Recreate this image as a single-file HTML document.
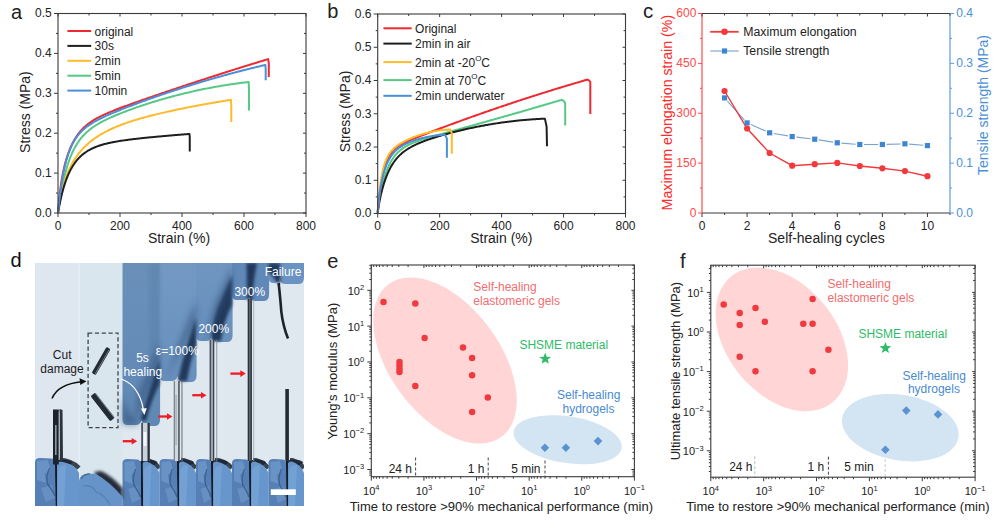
<!DOCTYPE html>
<html><head><meta charset="utf-8"><style>
html,body{margin:0;padding:0;background:#fff;}
svg{display:block;}
text{font-family:"Liberation Sans", sans-serif;}
</style></head><body>
<svg width="1000" height="529" viewBox="0 0 1000 529">
<rect width="1000" height="529" fill="#fff"/>
<path d="M58,213 L58.27,210.93 L58.55,208.91 L58.82,206.95 L59.09,205.05 L59.36,203.2 L59.64,201.4 L59.91,199.65 L60.18,197.94 L60.45,196.28 L60.73,194.67 L61,193.09 L62.18,186.74 L63.36,181.06 L64.54,175.96 L65.72,171.37 L66.9,167.22 L68.08,163.46 L69.26,160.05 L70.44,156.95 L71.62,154.11 L72.8,151.51 L73.98,149.13 L75.16,146.94 L76.34,144.91 L77.52,143.04 L78.7,141.31 L79.88,139.7 L81.06,138.2 L82.24,136.79 L83.42,135.48 L84.6,134.25 L85.78,133.09 L86.96,132 L88.14,130.96 L89.32,129.98 L90.5,129.05 L91.68,128.16 L92.87,127.31 L94.05,126.5 L95.23,125.72 L96.41,124.97 L97.59,124.25 L98.77,123.55 L99.95,122.87 L101.13,122.22 L102.31,121.59 L103.49,120.97 L104.67,120.37 L105.85,119.78 L107.03,119.21 L108.21,118.65 L109.39,118.1 L110.57,117.56 L111.75,117.03 L112.93,116.51 L114.11,116 L115.29,115.5 L116.47,115 L117.65,114.52 L118.83,114.03 L120.01,113.56 L121.19,113.09 L122.37,112.63 L123.55,112.17 L124.73,111.72 L125.91,111.27 L127.09,110.83 L128.27,110.39 L129.45,109.95 L130.63,109.52 L131.81,109.1 L132.99,108.68 L134.17,108.26 L135.35,107.84 L136.53,107.43 L137.71,107.03 L138.89,106.62 L140.07,106.22 L141.25,105.82 L142.43,105.43 L143.61,105.04 L144.79,104.65 L145.97,104.27 L147.15,103.89 L148.33,103.51 L149.51,103.14 L150.69,102.77 L151.87,102.4 L153.05,102.03 L154.23,101.67 L155.42,101.31 L156.6,100.96 L157.78,100.6 L158.96,100.25 L160.14,99.91 L161.32,99.56 L162.5,99.22 L163.68,98.88 L164.86,98.55 L166.04,98.21 L167.22,97.88 L168.4,97.56 L169.58,97.23 L170.76,96.91 L171.94,96.59 L173.12,96.28 L174.3,95.96 L175.48,95.65 L176.66,95.35 L177.84,95.04 L179.02,94.74 L180.2,94.44 L181.38,94.15 L182.56,93.86 L183.74,93.57 L184.92,93.28 L186.1,93 L187.28,92.72 L188.46,92.44 L189.64,92.16 L190.82,91.89 L192,91.62 L193.18,91.35 L194.36,91.09 L195.54,90.83 L196.72,90.57 L197.9,90.31 L199.08,90.06 L200.26,89.81 L201.44,89.56 L202.62,89.32 L203.8,89.08 L204.98,88.84 L206.16,88.61 L207.34,88.37 L208.52,88.14 L209.7,87.92 L210.88,87.69 L212.06,87.47 L213.24,87.25 L214.42,87.04 L215.6,86.82 L216.78,86.61 L217.97,86.41 L219.15,86.2 L220.33,86 L221.51,85.8 L222.69,85.61 L223.87,85.41 L225.05,85.22 L226.23,85.04 L227.41,84.85 L228.59,84.67 L229.77,84.49 L230.95,84.32 L232.13,84.14 L233.31,83.97 L234.49,83.8 L235.67,83.64 L236.85,83.48 L238.03,83.32 L239.21,83.16 L240.39,83.01 L241.57,82.86 L242.75,82.71 L243.93,82.57 L245.11,82.43 L246.29,82.29 L247.47,82.15 L248.65,82.02 L248.96,89.31 L248.96,110.46" fill="none" stroke="#55c883" stroke-width="2.0" stroke-linejoin="round" stroke-linecap="butt"/>
<path d="M58,213 L58.27,211.17 L58.55,209.39 L58.82,207.68 L59.09,206.03 L59.36,204.43 L59.64,202.89 L59.91,201.39 L60.18,199.94 L60.45,198.54 L60.73,197.18 L61,195.87 L62.07,191.08 L63.14,186.82 L64.21,183 L65.28,179.56 L66.35,176.43 L67.41,173.59 L68.48,170.98 L69.55,168.58 L70.62,166.36 L71.69,164.29 L72.76,162.36 L73.83,160.55 L74.9,158.85 L75.97,157.25 L77.04,155.73 L78.1,154.3 L79.17,152.93 L80.24,151.63 L81.31,150.38 L82.38,149.2 L83.45,148.06 L84.52,146.97 L85.59,145.92 L86.66,144.91 L87.73,143.94 L88.8,143.01 L89.86,142.11 L90.93,141.24 L92,140.4 L93.07,139.59 L94.14,138.81 L95.21,138.05 L96.28,137.32 L97.35,136.61 L98.42,135.91 L99.49,135.24 L100.56,134.59 L101.62,133.96 L102.69,133.35 L103.76,132.75 L104.83,132.17 L105.9,131.6 L106.97,131.05 L108.04,130.52 L109.11,129.99 L110.18,129.48 L111.25,128.98 L112.31,128.49 L113.38,128.02 L114.45,127.55 L115.52,127.1 L116.59,126.65 L117.66,126.21 L118.73,125.79 L119.8,125.37 L120.87,124.96 L121.94,124.55 L123.01,124.16 L124.07,123.77 L125.14,123.39 L126.21,123.01 L127.28,122.64 L128.35,122.28 L129.42,121.92 L130.49,121.57 L131.56,121.23 L132.63,120.89 L133.7,120.55 L134.76,120.22 L135.83,119.89 L136.9,119.57 L137.97,119.26 L139.04,118.94 L140.11,118.63 L141.18,118.33 L142.25,118.03 L143.32,117.73 L144.39,117.43 L145.46,117.14 L146.52,116.85 L147.59,116.57 L148.66,116.29 L149.73,116.01 L150.8,115.73 L151.87,115.46 L152.94,115.19 L154.01,114.92 L155.08,114.65 L156.15,114.39 L157.22,114.13 L158.28,113.87 L159.35,113.61 L160.42,113.36 L161.49,113.11 L162.56,112.86 L163.63,112.61 L164.7,112.36 L165.77,112.12 L166.84,111.87 L167.91,111.63 L168.97,111.4 L170.04,111.16 L171.11,110.92 L172.18,110.69 L173.25,110.46 L174.32,110.23 L175.39,110 L176.46,109.77 L177.53,109.54 L178.6,109.32 L179.67,109.1 L180.73,108.88 L181.8,108.66 L182.87,108.44 L183.94,108.22 L185.01,108 L186.08,107.79 L187.15,107.58 L188.22,107.37 L189.29,107.15 L190.36,106.95 L191.42,106.74 L192.49,106.53 L193.56,106.33 L194.63,106.12 L195.7,105.92 L196.77,105.72 L197.84,105.52 L198.91,105.32 L199.98,105.12 L201.05,104.92 L202.12,104.73 L203.18,104.53 L204.25,104.34 L205.32,104.15 L206.39,103.95 L207.46,103.76 L208.53,103.57 L209.6,103.39 L210.67,103.2 L211.74,103.01 L212.81,102.83 L213.88,102.65 L214.94,102.46 L216.01,102.28 L217.08,102.1 L218.15,101.92 L219.22,101.74 L220.29,101.57 L221.36,101.39 L222.43,101.22 L223.5,101.04 L224.57,100.87 L225.63,100.7 L226.7,100.53 L227.77,100.36 L228.84,100.19 L229.91,100.02 L230.98,99.85 L231.29,105.27 L231.29,122.03" fill="none" stroke="#fdbb2c" stroke-width="2.0" stroke-linejoin="round" stroke-linecap="butt"/>
<path d="M58,213 L58.27,211.41 L58.55,209.86 L58.82,208.36 L59.09,206.9 L59.36,205.48 L59.64,204.1 L59.91,202.75 L60.18,201.45 L60.45,200.17 L60.73,198.94 L61,197.73 L61.81,194.34 L62.62,191.21 L63.42,188.3 L64.23,185.6 L65.04,183.09 L65.85,180.75 L66.65,178.57 L67.46,176.54 L68.27,174.63 L69.08,172.85 L69.89,171.18 L70.69,169.61 L71.5,168.14 L72.31,166.75 L73.12,165.45 L73.92,164.22 L74.73,163.06 L75.54,161.96 L76.35,160.93 L77.16,159.95 L77.96,159.03 L78.77,158.15 L79.58,157.32 L80.39,156.53 L81.19,155.78 L82,155.07 L82.81,154.39 L83.62,153.75 L84.43,153.13 L85.23,152.55 L86.04,152 L86.85,151.47 L87.66,150.96 L88.47,150.48 L89.27,150.01 L90.08,149.57 L90.89,149.15 L91.7,148.75 L92.5,148.36 L93.31,147.99 L94.12,147.64 L94.93,147.29 L95.74,146.97 L96.54,146.65 L97.35,146.35 L98.16,146.06 L98.97,145.78 L99.77,145.51 L100.58,145.25 L101.39,145 L102.2,144.76 L103.01,144.53 L103.81,144.3 L104.62,144.09 L105.43,143.88 L106.24,143.67 L107.04,143.48 L107.85,143.28 L108.66,143.1 L109.47,142.92 L110.28,142.74 L111.08,142.58 L111.89,142.41 L112.7,142.25 L113.51,142.09 L114.31,141.94 L115.12,141.79 L115.93,141.65 L116.74,141.51 L117.55,141.37 L118.35,141.23 L119.16,141.1 L119.97,140.97 L120.78,140.85 L121.58,140.72 L122.39,140.6 L123.2,140.48 L124.01,140.37 L124.82,140.25 L125.62,140.14 L126.43,140.03 L127.24,139.92 L128.05,139.81 L128.86,139.71 L129.66,139.6 L130.47,139.5 L131.28,139.4 L132.09,139.3 L132.89,139.2 L133.7,139.1 L134.51,139.01 L135.32,138.91 L136.13,138.82 L136.93,138.73 L137.74,138.64 L138.55,138.55 L139.36,138.46 L140.16,138.37 L140.97,138.28 L141.78,138.19 L142.59,138.11 L143.4,138.02 L144.2,137.94 L145.01,137.86 L145.82,137.77 L146.63,137.69 L147.43,137.61 L148.24,137.53 L149.05,137.45 L149.86,137.37 L150.67,137.29 L151.47,137.21 L152.28,137.13 L153.09,137.05 L153.9,136.98 L154.7,136.9 L155.51,136.83 L156.32,136.75 L157.13,136.67 L157.94,136.6 L158.74,136.53 L159.55,136.45 L160.36,136.38 L161.17,136.31 L161.97,136.23 L162.78,136.16 L163.59,136.09 L164.4,136.02 L165.21,135.95 L166.01,135.88 L166.82,135.81 L167.63,135.74 L168.44,135.67 L169.25,135.6 L170.05,135.53 L170.86,135.46 L171.67,135.39 L172.48,135.32 L173.28,135.26 L174.09,135.19 L174.9,135.12 L175.71,135.06 L176.52,134.99 L177.32,134.92 L178.13,134.86 L178.94,134.79 L179.75,134.73 L180.55,134.66 L181.36,134.6 L182.17,134.53 L182.98,134.47 L183.79,134.41 L184.59,134.34 L185.4,134.28 L186.21,134.22 L187.02,134.15 L187.82,134.09 L188.63,134.03 L189.44,133.97 L189.75,137.19 L189.75,151.55" fill="none" stroke="#1e1e1e" stroke-width="2.0" stroke-linejoin="round" stroke-linecap="butt"/>
<path d="M58,213 L58.27,209.46 L58.55,206.16 L58.82,203.08 L59.09,200.19 L59.36,197.49 L59.64,194.95 L59.91,192.56 L60.18,190.3 L60.45,188.17 L60.73,186.15 L61,184.23 L62.3,176.25 L63.61,169.74 L64.91,164.26 L66.21,159.55 L67.52,155.43 L68.82,151.77 L70.12,148.5 L71.42,145.55 L72.73,142.89 L74.03,140.46 L75.33,138.26 L76.64,136.24 L77.94,134.39 L79.24,132.69 L80.55,131.12 L81.85,129.67 L83.15,128.32 L84.45,127.07 L85.76,125.9 L87.06,124.81 L88.36,123.78 L89.67,122.81 L90.97,121.9 L92.27,121.03 L93.58,120.21 L94.88,119.43 L96.18,118.68 L97.48,117.96 L98.79,117.26 L100.09,116.6 L101.39,115.95 L102.7,115.32 L104,114.71 L105.3,114.12 L106.61,113.54 L107.91,112.97 L109.21,112.42 L110.51,111.87 L111.82,111.33 L113.12,110.81 L114.42,110.28 L115.73,109.77 L117.03,109.26 L118.33,108.76 L119.64,108.26 L120.94,107.77 L122.24,107.28 L123.54,106.79 L124.85,106.31 L126.15,105.83 L127.45,105.35 L128.76,104.88 L130.06,104.41 L131.36,103.94 L132.67,103.47 L133.97,103.01 L135.27,102.54 L136.58,102.08 L137.88,101.62 L139.18,101.16 L140.48,100.7 L141.79,100.24 L143.09,99.79 L144.39,99.33 L145.7,98.88 L147,98.42 L148.3,97.97 L149.61,97.52 L150.91,97.07 L152.21,96.62 L153.51,96.17 L154.82,95.72 L156.12,95.28 L157.42,94.83 L158.73,94.39 L160.03,93.94 L161.33,93.5 L162.64,93.05 L163.94,92.61 L165.24,92.17 L166.54,91.73 L167.85,91.28 L169.15,90.84 L170.45,90.4 L171.76,89.97 L173.06,89.53 L174.36,89.09 L175.67,88.65 L176.97,88.21 L178.27,87.78 L179.57,87.34 L180.88,86.91 L182.18,86.47 L183.48,86.04 L184.79,85.61 L186.09,85.18 L187.39,84.74 L188.7,84.31 L190,83.88 L191.3,83.45 L192.6,83.02 L193.91,82.59 L195.21,82.16 L196.51,81.74 L197.82,81.31 L199.12,80.88 L200.42,80.46 L201.73,80.03 L203.03,79.61 L204.33,79.18 L205.64,78.76 L206.94,78.34 L208.24,77.91 L209.54,77.49 L210.85,77.07 L212.15,76.65 L213.45,76.23 L214.76,75.81 L216.06,75.39 L217.36,74.97 L218.67,74.55 L219.97,74.14 L221.27,73.72 L222.57,73.3 L223.88,72.89 L225.18,72.47 L226.48,72.06 L227.79,71.64 L229.09,71.23 L230.39,70.82 L231.7,70.41 L233,70 L234.3,69.58 L235.6,69.17 L236.91,68.76 L238.21,68.36 L239.51,67.95 L240.82,67.54 L242.12,67.13 L243.42,66.72 L244.73,66.32 L246.03,65.91 L247.33,65.51 L248.63,65.1 L249.94,64.7 L251.24,64.3 L252.54,63.89 L253.85,63.49 L255.15,63.09 L256.45,62.69 L257.76,62.29 L259.06,61.89 L260.36,61.49 L261.66,61.09 L262.97,60.69 L264.27,60.29 L265.57,59.9 L266.88,59.5 L268.18,59.1 L268.8,63.38 L268.8,76.94" fill="none" stroke="#ee2a30" stroke-width="2.0" stroke-linejoin="round" stroke-linecap="butt"/>
<path d="M58,213 L58.27,210.2 L58.55,207.51 L58.82,204.92 L59.09,202.42 L59.36,200.02 L59.64,197.71 L59.91,195.48 L60.18,193.33 L60.45,191.26 L60.73,189.26 L61,187.34 L62.29,179.13 L63.57,172.16 L64.86,166.2 L66.14,161.07 L67.43,156.63 L68.71,152.77 L70,149.39 L71.28,146.4 L72.57,143.76 L73.85,141.4 L75.14,139.28 L76.43,137.37 L77.71,135.64 L79,134.06 L80.28,132.61 L81.57,131.28 L82.85,130.05 L84.14,128.9 L85.42,127.82 L86.71,126.81 L87.99,125.86 L89.28,124.96 L90.57,124.11 L91.85,123.29 L93.14,122.51 L94.42,121.76 L95.71,121.03 L96.99,120.33 L98.28,119.65 L99.56,118.99 L100.85,118.35 L102.14,117.73 L103.42,117.11 L104.71,116.51 L105.99,115.93 L107.28,115.35 L108.56,114.78 L109.85,114.22 L111.13,113.66 L112.42,113.12 L113.7,112.58 L114.99,112.04 L116.28,111.51 L117.56,110.99 L118.85,110.47 L120.13,109.95 L121.42,109.44 L122.7,108.93 L123.99,108.43 L125.27,107.93 L126.56,107.43 L127.84,106.93 L129.13,106.44 L130.42,105.95 L131.7,105.46 L132.99,104.98 L134.27,104.5 L135.56,104.02 L136.84,103.54 L138.13,103.06 L139.41,102.59 L140.7,102.12 L141.98,101.65 L143.27,101.18 L144.56,100.72 L145.84,100.25 L147.13,99.79 L148.41,99.33 L149.7,98.88 L150.98,98.42 L152.27,97.97 L153.55,97.52 L154.84,97.07 L156.12,96.62 L157.41,96.17 L158.7,95.73 L159.98,95.28 L161.27,94.84 L162.55,94.4 L163.84,93.97 L165.12,93.53 L166.41,93.1 L167.69,92.66 L168.98,92.23 L170.27,91.81 L171.55,91.38 L172.84,90.95 L174.12,90.53 L175.41,90.11 L176.69,89.69 L177.98,89.27 L179.26,88.85 L180.55,88.44 L181.83,88.03 L183.12,87.62 L184.41,87.21 L185.69,86.8 L186.98,86.39 L188.26,85.99 L189.55,85.59 L190.83,85.19 L192.12,84.79 L193.4,84.39 L194.69,83.99 L195.97,83.6 L197.26,83.21 L198.55,82.82 L199.83,82.43 L201.12,82.04 L202.4,81.66 L203.69,81.28 L204.97,80.89 L206.26,80.51 L207.54,80.14 L208.83,79.76 L210.11,79.38 L211.4,79.01 L212.69,78.64 L213.97,78.27 L215.26,77.9 L216.54,77.54 L217.83,77.17 L219.11,76.81 L220.4,76.45 L221.68,76.09 L222.97,75.73 L224.25,75.38 L225.54,75.02 L226.83,74.67 L228.11,74.32 L229.4,73.97 L230.68,73.63 L231.97,73.28 L233.25,72.94 L234.54,72.6 L235.82,72.26 L237.11,71.92 L238.4,71.58 L239.68,71.25 L240.97,70.91 L242.25,70.58 L243.54,70.25 L244.82,69.93 L246.11,69.6 L247.39,69.28 L248.68,68.95 L249.96,68.63 L251.25,68.31 L252.54,68 L253.82,67.68 L255.11,67.37 L256.39,67.05 L257.68,66.74 L258.96,66.44 L260.25,66.13 L261.53,65.82 L262.82,65.52 L264.1,65.22 L265.39,64.92 L265.7,69.36 L265.7,80.13" fill="none" stroke="#4a8fd8" stroke-width="2.0" stroke-linejoin="round" stroke-linecap="butt"/>
<rect x="58" y="13.5" width="248" height="199.5" fill="none" stroke="#3a3a3a" stroke-width="1.1"/>
<line x1="58" y1="213" x2="58" y2="217" stroke="#3a3a3a" stroke-width="1.0" />
<line x1="58" y1="13.5" x2="58" y2="16.5" stroke="#3a3a3a" stroke-width="1.0" />
<text x="58" y="229.8" font-size="12" text-anchor="middle" fill="#222" >0</text>
<line x1="89" y1="213" x2="89" y2="215" stroke="#3a3a3a" stroke-width="1.0" />
<line x1="89" y1="13.5" x2="89" y2="15.5" stroke="#3a3a3a" stroke-width="1.0" />
<line x1="120" y1="213" x2="120" y2="217" stroke="#3a3a3a" stroke-width="1.0" />
<line x1="120" y1="13.5" x2="120" y2="16.5" stroke="#3a3a3a" stroke-width="1.0" />
<text x="120" y="229.8" font-size="12" text-anchor="middle" fill="#222" >200</text>
<line x1="151" y1="213" x2="151" y2="215" stroke="#3a3a3a" stroke-width="1.0" />
<line x1="151" y1="13.5" x2="151" y2="15.5" stroke="#3a3a3a" stroke-width="1.0" />
<line x1="182" y1="213" x2="182" y2="217" stroke="#3a3a3a" stroke-width="1.0" />
<line x1="182" y1="13.5" x2="182" y2="16.5" stroke="#3a3a3a" stroke-width="1.0" />
<text x="182" y="229.8" font-size="12" text-anchor="middle" fill="#222" >400</text>
<line x1="213" y1="213" x2="213" y2="215" stroke="#3a3a3a" stroke-width="1.0" />
<line x1="213" y1="13.5" x2="213" y2="15.5" stroke="#3a3a3a" stroke-width="1.0" />
<line x1="244" y1="213" x2="244" y2="217" stroke="#3a3a3a" stroke-width="1.0" />
<line x1="244" y1="13.5" x2="244" y2="16.5" stroke="#3a3a3a" stroke-width="1.0" />
<text x="244" y="229.8" font-size="12" text-anchor="middle" fill="#222" >600</text>
<line x1="275" y1="213" x2="275" y2="215" stroke="#3a3a3a" stroke-width="1.0" />
<line x1="275" y1="13.5" x2="275" y2="15.5" stroke="#3a3a3a" stroke-width="1.0" />
<line x1="306" y1="213" x2="306" y2="217" stroke="#3a3a3a" stroke-width="1.0" />
<line x1="306" y1="13.5" x2="306" y2="16.5" stroke="#3a3a3a" stroke-width="1.0" />
<text x="306" y="229.8" font-size="12" text-anchor="middle" fill="#222" >800</text>
<line x1="54" y1="213" x2="58" y2="213" stroke="#3a3a3a" stroke-width="1.0" />
<line x1="303" y1="213" x2="306" y2="213" stroke="#3a3a3a" stroke-width="1.0" />
<text x="51.7" y="216.9" font-size="12" text-anchor="end" fill="#222" >0.0</text>
<line x1="56" y1="193.05" x2="58" y2="193.05" stroke="#3a3a3a" stroke-width="1.0" />
<line x1="304" y1="193.05" x2="306" y2="193.05" stroke="#3a3a3a" stroke-width="1.0" />
<line x1="54" y1="173.1" x2="58" y2="173.1" stroke="#3a3a3a" stroke-width="1.0" />
<line x1="303" y1="173.1" x2="306" y2="173.1" stroke="#3a3a3a" stroke-width="1.0" />
<text x="51.7" y="177" font-size="12" text-anchor="end" fill="#222" >0.1</text>
<line x1="56" y1="153.15" x2="58" y2="153.15" stroke="#3a3a3a" stroke-width="1.0" />
<line x1="304" y1="153.15" x2="306" y2="153.15" stroke="#3a3a3a" stroke-width="1.0" />
<line x1="54" y1="133.2" x2="58" y2="133.2" stroke="#3a3a3a" stroke-width="1.0" />
<line x1="303" y1="133.2" x2="306" y2="133.2" stroke="#3a3a3a" stroke-width="1.0" />
<text x="51.7" y="137.1" font-size="12" text-anchor="end" fill="#222" >0.2</text>
<line x1="56" y1="113.25" x2="58" y2="113.25" stroke="#3a3a3a" stroke-width="1.0" />
<line x1="304" y1="113.25" x2="306" y2="113.25" stroke="#3a3a3a" stroke-width="1.0" />
<line x1="54" y1="93.3" x2="58" y2="93.3" stroke="#3a3a3a" stroke-width="1.0" />
<line x1="303" y1="93.3" x2="306" y2="93.3" stroke="#3a3a3a" stroke-width="1.0" />
<text x="51.7" y="97.2" font-size="12" text-anchor="end" fill="#222" >0.3</text>
<line x1="56" y1="73.35" x2="58" y2="73.35" stroke="#3a3a3a" stroke-width="1.0" />
<line x1="304" y1="73.35" x2="306" y2="73.35" stroke="#3a3a3a" stroke-width="1.0" />
<line x1="54" y1="53.4" x2="58" y2="53.4" stroke="#3a3a3a" stroke-width="1.0" />
<line x1="303" y1="53.4" x2="306" y2="53.4" stroke="#3a3a3a" stroke-width="1.0" />
<text x="51.7" y="57.3" font-size="12" text-anchor="end" fill="#222" >0.4</text>
<line x1="56" y1="33.45" x2="58" y2="33.45" stroke="#3a3a3a" stroke-width="1.0" />
<line x1="304" y1="33.45" x2="306" y2="33.45" stroke="#3a3a3a" stroke-width="1.0" />
<line x1="54" y1="13.5" x2="58" y2="13.5" stroke="#3a3a3a" stroke-width="1.0" />
<line x1="303" y1="13.5" x2="306" y2="13.5" stroke="#3a3a3a" stroke-width="1.0" />
<text x="51.7" y="17.4" font-size="12" text-anchor="end" fill="#222" >0.5</text>
<line x1="67.4" y1="31" x2="91.2" y2="31" stroke="#ee2a30" stroke-width="2.0" />
<text x="94.6" y="35.5" font-size="12" text-anchor="start" fill="#222" >original</text>
<line x1="67.4" y1="45.9" x2="91.2" y2="45.9" stroke="#1e1e1e" stroke-width="2.0" />
<text x="94.6" y="50.4" font-size="12" text-anchor="start" fill="#222" >30s</text>
<line x1="67.4" y1="60.8" x2="91.2" y2="60.8" stroke="#fdbb2c" stroke-width="2.0" />
<text x="94.6" y="65.3" font-size="12" text-anchor="start" fill="#222" >2min</text>
<line x1="67.4" y1="75.7" x2="91.2" y2="75.7" stroke="#55c883" stroke-width="2.0" />
<text x="94.6" y="80.2" font-size="12" text-anchor="start" fill="#222" >5min</text>
<line x1="67.4" y1="90.6" x2="91.2" y2="90.6" stroke="#4a8fd8" stroke-width="2.0" />
<text x="94.6" y="95.1" font-size="12" text-anchor="start" fill="#222" >10min</text>
<text x="179" y="242.7" font-size="14" text-anchor="middle" fill="#222" >Strain (%)</text>
<text x="29.8" y="112.1" font-size="14" text-anchor="middle" fill="#222" transform="rotate(-90 29.8,112.1)">Stress (MPa)</text>
<text x="11" y="18.8" font-size="20" text-anchor="start" fill="#222" >a</text>
<path d="M377.7,213.2 L377.97,207.63 L378.25,205.43 L378.52,203.73 L378.79,202.13 L379.06,200.59 L379.34,199.09 L379.61,197.63 L379.88,196.21 L380.15,194.83 L380.43,193.49 L380.7,192.18 L381.84,187.1 L382.98,182.56 L384.11,178.5 L385.25,174.87 L386.39,171.62 L387.53,168.7 L388.66,166.08 L389.8,163.73 L390.94,161.61 L392.08,159.69 L393.22,157.96 L394.35,156.39 L395.49,154.97 L396.63,153.67 L397.77,152.49 L398.9,151.41 L400.04,150.42 L401.18,149.5 L402.32,148.66 L403.45,147.87 L404.59,147.14 L405.73,146.46 L406.87,145.83 L408.01,145.23 L409.14,144.66 L410.28,144.13 L411.42,143.62 L412.56,143.13 L413.69,142.67 L414.83,142.22 L415.97,141.79 L417.11,141.38 L418.25,140.97 L419.38,140.58 L420.52,140.2 L421.66,139.82 L422.8,139.46 L423.93,139.1 L425.07,138.75 L426.21,138.4 L427.35,138.06 L428.48,137.72 L429.62,137.38 L430.76,137.05 L431.9,136.72 L433.04,136.39 L434.17,136.07 L435.31,135.75 L436.45,135.42 L437.59,135.1 L438.72,134.79 L439.86,134.47 L441,134.15 L442.14,133.84 L443.28,133.52 L444.41,133.2 L445.55,132.89 L446.69,132.58 L447.83,132.26 L448.96,131.95 L450.1,131.64 L451.24,131.32 L452.38,131.01 L453.52,130.7 L454.65,130.38 L455.79,130.07 L456.93,129.76 L458.07,129.44 L459.2,129.13 L460.34,128.81 L461.48,128.5 L462.62,128.19 L463.75,127.87 L464.89,127.56 L466.03,127.24 L467.17,126.93 L468.31,126.61 L469.44,126.3 L470.58,125.98 L471.72,125.67 L472.86,125.35 L473.99,125.03 L475.13,124.72 L476.27,124.4 L477.41,124.08 L478.55,123.77 L479.68,123.45 L480.82,123.13 L481.96,122.81 L483.1,122.5 L484.23,122.18 L485.37,121.86 L486.51,121.54 L487.65,121.22 L488.78,120.9 L489.92,120.58 L491.06,120.26 L492.2,119.94 L493.34,119.62 L494.47,119.3 L495.61,118.98 L496.75,118.66 L497.89,118.33 L499.02,118.01 L500.16,117.69 L501.3,117.37 L502.44,117.04 L503.58,116.72 L504.71,116.4 L505.85,116.07 L506.99,115.75 L508.13,115.43 L509.26,115.1 L510.4,114.78 L511.54,114.45 L512.68,114.13 L513.82,113.8 L514.95,113.47 L516.09,113.15 L517.23,112.82 L518.37,112.49 L519.5,112.17 L520.64,111.84 L521.78,111.51 L522.92,111.18 L524.05,110.86 L525.19,110.53 L526.33,110.2 L527.47,109.87 L528.61,109.54 L529.74,109.21 L530.88,108.88 L532.02,108.55 L533.16,108.22 L534.29,107.89 L535.43,107.56 L536.57,107.23 L537.71,106.9 L538.85,106.56 L539.98,106.23 L541.12,105.9 L542.26,105.57 L543.4,105.23 L544.53,104.9 L545.67,104.57 L546.81,104.23 L547.95,103.9 L549.08,103.56 L550.22,103.23 L551.36,102.89 L552.5,102.56 L553.64,102.22 L554.77,101.89 L555.91,101.55 L557.05,101.22 L558.19,100.88 L559.32,100.54 L560.46,100.21 L561.6,99.87 L563.6,100.9 L564.9,102.6 L565.2,104.5 L565.2,125.5" fill="none" stroke="#55c883" stroke-width="2.0" stroke-linejoin="round"/>
<path d="M377.7,213.2 L377.97,211.06 L378.25,209.08 L378.52,207.25 L378.79,205.52 L379.06,203.9 L379.34,202.37 L379.61,200.91 L379.88,199.51 L380.15,198.18 L380.43,196.9 L380.7,195.66 L381.73,191.35 L382.77,187.49 L383.8,184.01 L384.83,180.84 L385.86,177.94 L386.9,175.28 L387.93,172.84 L388.96,170.6 L389.99,168.54 L391.03,166.63 L392.06,164.88 L393.09,163.25 L394.13,161.74 L395.16,160.34 L396.19,159.04 L397.22,157.82 L398.26,156.69 L399.29,155.63 L400.32,154.64 L401.35,153.7 L402.39,152.82 L403.42,151.99 L404.45,151.21 L405.48,150.47 L406.52,149.76 L407.55,149.09 L408.58,148.45 L409.62,147.83 L410.65,147.25 L411.68,146.68 L412.71,146.14 L413.75,145.62 L414.78,145.11 L415.81,144.62 L416.84,144.15 L417.88,143.69 L418.91,143.25 L419.94,142.81 L420.98,142.39 L422.01,141.98 L423.04,141.58 L424.07,141.18 L425.11,140.79 L426.14,140.42 L427.17,140.04 L428.2,139.68 L429.24,139.32 L430.27,138.97 L431.3,138.62 L432.34,138.28 L433.37,137.94 L434.4,137.61 L435.43,137.28 L436.47,136.96 L437.5,136.64 L438.53,136.33 L439.56,136.02 L440.6,135.71 L441.63,135.41 L442.66,135.11 L443.69,134.81 L444.73,134.52 L445.76,134.23 L446.79,133.94 L447.83,133.66 L448.86,133.38 L449.89,133.1 L450.92,132.82 L451.96,132.55 L452.99,132.28 L454.02,132.02 L455.05,131.75 L456.09,131.49 L457.12,131.24 L458.15,130.98 L459.19,130.73 L460.22,130.48 L461.25,130.23 L462.28,129.99 L463.32,129.75 L464.35,129.51 L465.38,129.27 L466.41,129.04 L467.45,128.81 L468.48,128.58 L469.51,128.35 L470.55,128.13 L471.58,127.91 L472.61,127.69 L473.64,127.48 L474.68,127.26 L475.71,127.05 L476.74,126.84 L477.77,126.64 L478.81,126.43 L479.84,126.23 L480.87,126.04 L481.91,125.84 L482.94,125.65 L483.97,125.46 L485,125.27 L486.04,125.08 L487.07,124.9 L488.1,124.72 L489.13,124.54 L490.17,124.37 L491.2,124.2 L492.23,124.02 L493.26,123.86 L494.3,123.69 L495.33,123.53 L496.36,123.37 L497.4,123.21 L498.43,123.06 L499.46,122.9 L500.49,122.75 L501.53,122.6 L502.56,122.46 L503.59,122.32 L504.62,122.18 L505.66,122.04 L506.69,121.9 L507.72,121.77 L508.76,121.64 L509.79,121.51 L510.82,121.39 L511.85,121.26 L512.89,121.14 L513.92,121.03 L514.95,120.91 L515.98,120.8 L517.02,120.69 L518.05,120.58 L519.08,120.47 L520.12,120.37 L521.15,120.27 L522.18,120.17 L523.21,120.08 L524.25,119.99 L525.28,119.9 L526.31,119.81 L527.34,119.72 L528.38,119.64 L529.41,119.56 L530.44,119.48 L531.47,119.41 L532.51,119.33 L533.54,119.26 L534.57,119.2 L535.61,119.13 L536.64,119.07 L537.67,119.01 L538.7,118.95 L539.74,118.89 L540.77,118.84 L541.8,118.79 L542.83,118.74 L543.87,118.7 L544.9,118.65 L546.6,126.6 L547,146.3" fill="none" stroke="#1e1e1e" stroke-width="2.0" stroke-linejoin="round"/>
<path d="M377.7,212.6 L377.97,209.73 L378.25,206.98 L378.52,204.36 L378.79,201.85 L379.06,199.46 L379.34,197.17 L379.61,194.98 L379.88,192.89 L380.15,190.88 L380.43,188.97 L380.7,187.14 L382,179.45 L383.3,173.2 L384.6,168.11 L385.9,163.95 L387.2,160.52 L388.5,157.68 L389.8,155.31 L391.11,153.31 L392.41,151.61 L393.71,150.15 L395.01,148.88 L396.31,147.77 L397.61,146.77 L398.91,145.87 L400.21,145.05 L401.51,144.29 L402.81,143.58 L404.11,142.92 L405.41,142.28 L406.71,141.67 L408.01,141.08 L409.31,140.5 L410.61,139.94 L411.92,139.4 L413.22,138.86 L414.52,138.32 L415.82,137.8 L417.12,137.28 L418.42,136.76 L419.72,136.25 L421.02,135.74 L422.32,135.23 L423.62,134.72 L424.92,134.22 L426.22,133.72 L427.52,133.22 L428.82,132.72 L430.12,132.22 L431.42,131.73 L432.73,131.23 L434.03,130.74 L435.33,130.25 L436.63,129.76 L437.93,129.27 L439.23,128.78 L440.53,128.29 L441.83,127.8 L443.13,127.32 L444.43,126.83 L445.73,126.35 L447.03,125.87 L448.33,125.39 L449.63,124.9 L450.93,124.43 L452.23,123.95 L453.54,123.47 L454.84,122.99 L456.14,122.52 L457.44,122.04 L458.74,121.57 L460.04,121.1 L461.34,120.62 L462.64,120.15 L463.94,119.68 L465.24,119.22 L466.54,118.75 L467.84,118.28 L469.14,117.82 L470.44,117.35 L471.74,116.89 L473.04,116.42 L474.35,115.96 L475.65,115.5 L476.95,115.04 L478.25,114.58 L479.55,114.12 L480.85,113.67 L482.15,113.21 L483.45,112.76 L484.75,112.3 L486.05,111.85 L487.35,111.4 L488.65,110.95 L489.95,110.5 L491.25,110.05 L492.55,109.6 L493.85,109.15 L495.16,108.71 L496.46,108.26 L497.76,107.82 L499.06,107.38 L500.36,106.93 L501.66,106.49 L502.96,106.05 L504.26,105.61 L505.56,105.18 L506.86,104.74 L508.16,104.3 L509.46,103.87 L510.76,103.43 L512.06,103 L513.36,102.57 L514.66,102.14 L515.97,101.71 L517.27,101.28 L518.57,100.85 L519.87,100.42 L521.17,100 L522.47,99.57 L523.77,99.15 L525.07,98.72 L526.37,98.3 L527.67,97.88 L528.97,97.46 L530.27,97.04 L531.57,96.62 L532.87,96.2 L534.17,95.79 L535.47,95.37 L536.78,94.96 L538.08,94.54 L539.38,94.13 L540.68,93.72 L541.98,93.31 L543.28,92.9 L544.58,92.49 L545.88,92.08 L547.18,91.68 L548.48,91.27 L549.78,90.87 L551.08,90.46 L552.38,90.06 L553.68,89.66 L554.98,89.26 L556.28,88.86 L557.59,88.46 L558.89,88.06 L560.19,87.67 L561.49,87.27 L562.79,86.88 L564.09,86.48 L565.39,86.09 L566.69,85.7 L567.99,85.31 L569.29,84.92 L570.59,84.53 L571.89,84.14 L573.19,83.76 L574.49,83.37 L575.79,82.98 L577.09,82.6 L578.4,82.22 L579.7,81.84 L581,81.46 L582.3,81.08 L583.6,80.7 L584.9,80.32 L586.2,79.94 L587.5,79.57 L589.3,80.7 L590.3,81.8 L590.3,114.1" fill="none" stroke="#ee2a30" stroke-width="2.0" stroke-linejoin="round"/>
<path d="M377.7,212.6 L377.97,208.66 L378.25,205.01 L378.52,201.63 L378.79,198.49 L379.06,195.58 L379.34,192.88 L379.61,190.36 L379.88,188.01 L380.15,185.81 L380.43,183.76 L380.7,181.84 L381.14,179 L381.58,176.44 L382.02,174.11 L382.45,172 L382.89,170.06 L383.33,168.3 L383.77,166.67 L384.21,165.18 L384.65,163.8 L385.08,162.53 L385.52,161.35 L385.96,160.25 L386.4,159.22 L386.84,158.27 L387.28,157.37 L387.71,156.53 L388.15,155.74 L388.59,155 L389.03,154.3 L389.47,153.63 L389.91,153 L390.34,152.4 L390.78,151.83 L391.22,151.29 L391.66,150.77 L392.1,150.28 L392.54,149.81 L392.97,149.35 L393.41,148.92 L393.85,148.5 L394.29,148.09 L394.73,147.7 L395.17,147.32 L395.6,146.96 L396.04,146.61 L396.48,146.26 L396.92,145.93 L397.36,145.61 L397.8,145.29 L398.23,144.99 L398.67,144.69 L399.11,144.39 L399.55,144.11 L399.99,143.83 L400.43,143.56 L400.86,143.29 L401.3,143.03 L401.74,142.77 L402.18,142.52 L402.62,142.27 L403.06,142.03 L403.49,141.79 L403.93,141.56 L404.37,141.33 L404.81,141.1 L405.25,140.88 L405.69,140.66 L406.13,140.44 L406.56,140.23 L407,140.02 L407.44,139.81 L407.88,139.6 L408.32,139.4 L408.76,139.2 L409.19,139.01 L409.63,138.81 L410.07,138.62 L410.51,138.43 L410.95,138.24 L411.39,138.06 L411.82,137.88 L412.26,137.7 L412.7,137.52 L413.14,137.35 L413.58,137.17 L414.02,137 L414.45,136.83 L414.89,136.67 L415.33,136.5 L415.77,136.34 L416.21,136.18 L416.65,136.02 L417.08,135.87 L417.52,135.71 L417.96,135.56 L418.4,135.41 L418.84,135.26 L419.28,135.12 L419.71,134.97 L420.15,134.83 L420.59,134.69 L421.03,134.55 L421.47,134.41 L421.91,134.28 L422.34,134.15 L422.78,134.02 L423.22,133.89 L423.66,133.76 L424.1,133.64 L424.54,133.51 L424.97,133.39 L425.41,133.27 L425.85,133.16 L426.29,133.04 L426.73,132.93 L427.17,132.81 L427.61,132.7 L428.04,132.6 L428.48,132.49 L428.92,132.39 L429.36,132.28 L429.8,132.18 L430.24,132.08 L430.67,131.99 L431.11,131.89 L431.55,131.8 L431.99,131.71 L432.43,131.62 L432.87,131.53 L433.3,131.45 L433.74,131.36 L434.18,131.28 L434.62,131.2 L435.06,131.12 L435.5,131.04 L435.93,130.97 L436.37,130.9 L436.81,130.83 L437.25,130.76 L437.69,130.69 L438.13,130.62 L438.56,130.56 L439,130.5 L439.44,130.44 L439.88,130.38 L440.32,130.33 L440.76,130.27 L441.19,130.22 L441.63,130.17 L442.07,130.12 L442.51,130.07 L442.95,130.03 L443.39,129.98 L443.82,129.94 L444.26,129.9 L444.7,129.87 L445.14,129.83 L445.58,129.8 L446.02,129.76 L446.45,129.73 L446.89,129.71 L447.33,129.68 L447.77,129.65 L448.21,129.63 L448.65,129.61 L449.08,129.59 L449.52,129.57 L449.96,129.56 L450.4,129.54 L451.8,133.1 L451.8,153.7" fill="none" stroke="#fdbb2c" stroke-width="2.0" stroke-linejoin="round"/>
<path d="M377.7,212.6 L377.97,209.24 L378.25,206.16 L378.52,203.33 L378.79,200.71 L379.06,198.28 L379.34,196.02 L379.61,193.91 L379.88,191.94 L380.15,190.08 L380.43,188.34 L380.7,186.7 L381.1,184.42 L381.51,182.32 L381.91,180.37 L382.32,178.54 L382.72,176.84 L383.12,175.24 L383.53,173.74 L383.93,172.32 L384.33,170.98 L384.74,169.71 L385.14,168.51 L385.55,167.37 L385.95,166.29 L386.35,165.26 L386.76,164.28 L387.16,163.35 L387.56,162.46 L387.97,161.61 L388.37,160.8 L388.78,160.02 L389.18,159.28 L389.58,158.57 L389.99,157.89 L390.39,157.24 L390.79,156.61 L391.2,156.01 L391.6,155.44 L392.01,154.88 L392.41,154.35 L392.81,153.84 L393.22,153.35 L393.62,152.88 L394.02,152.42 L394.43,151.98 L394.83,151.55 L395.24,151.14 L395.64,150.75 L396.04,150.37 L396.45,150 L396.85,149.64 L397.25,149.29 L397.66,148.95 L398.06,148.63 L398.47,148.31 L398.87,148.01 L399.27,147.71 L399.68,147.42 L400.08,147.14 L400.48,146.86 L400.89,146.6 L401.29,146.34 L401.7,146.09 L402.1,145.84 L402.5,145.6 L402.91,145.36 L403.31,145.14 L403.72,144.91 L404.12,144.69 L404.52,144.48 L404.93,144.27 L405.33,144.07 L405.73,143.87 L406.14,143.67 L406.54,143.48 L406.95,143.29 L407.35,143.11 L407.75,142.93 L408.16,142.75 L408.56,142.57 L408.96,142.4 L409.37,142.24 L409.77,142.07 L410.18,141.91 L410.58,141.75 L410.98,141.59 L411.39,141.44 L411.79,141.29 L412.19,141.14 L412.6,140.99 L413,140.85 L413.41,140.71 L413.81,140.57 L414.21,140.43 L414.62,140.3 L415.02,140.16 L415.42,140.03 L415.83,139.9 L416.23,139.78 L416.64,139.65 L417.04,139.53 L417.44,139.41 L417.85,139.29 L418.25,139.17 L418.65,139.06 L419.06,138.94 L419.46,138.83 L419.87,138.72 L420.27,138.61 L420.67,138.5 L421.08,138.4 L421.48,138.29 L421.88,138.19 L422.29,138.09 L422.69,137.99 L423.1,137.89 L423.5,137.8 L423.9,137.7 L424.31,137.61 L424.71,137.52 L425.12,137.43 L425.52,137.34 L425.92,137.25 L426.33,137.16 L426.73,137.08 L427.13,137 L427.54,136.91 L427.94,136.83 L428.35,136.76 L428.75,136.68 L429.15,136.6 L429.56,136.53 L429.96,136.45 L430.36,136.38 L430.77,136.31 L431.17,136.24 L431.58,136.17 L431.98,136.11 L432.38,136.04 L432.79,135.98 L433.19,135.92 L433.59,135.85 L434,135.79 L434.4,135.74 L434.81,135.68 L435.21,135.62 L435.61,135.57 L436.02,135.51 L436.42,135.46 L436.82,135.41 L437.23,135.36 L437.63,135.31 L438.04,135.27 L438.44,135.22 L438.84,135.18 L439.25,135.14 L439.65,135.09 L440.05,135.05 L440.46,135.01 L440.86,134.98 L441.27,134.94 L441.67,134.91 L442.07,134.87 L442.48,134.84 L442.88,134.81 L443.28,134.78 L443.69,134.75 L444.09,134.72 L444.5,134.7 L444.9,134.67 L446.9,138.6 L446.9,157.8" fill="none" stroke="#4a8fd8" stroke-width="2.0" stroke-linejoin="round"/>
<rect x="377.7" y="14" width="247.8" height="199.5" fill="none" stroke="#3a3a3a" stroke-width="1.1"/>
<line x1="377.7" y1="213.5" x2="377.7" y2="217.5" stroke="#3a3a3a" stroke-width="1.0" />
<line x1="377.7" y1="14" x2="377.7" y2="17" stroke="#3a3a3a" stroke-width="1.0" />
<text x="377.7" y="230.3" font-size="12" text-anchor="middle" fill="#222" >0</text>
<line x1="408.68" y1="213.5" x2="408.68" y2="215.5" stroke="#3a3a3a" stroke-width="1.0" />
<line x1="408.68" y1="14" x2="408.68" y2="16" stroke="#3a3a3a" stroke-width="1.0" />
<line x1="439.65" y1="213.5" x2="439.65" y2="217.5" stroke="#3a3a3a" stroke-width="1.0" />
<line x1="439.65" y1="14" x2="439.65" y2="17" stroke="#3a3a3a" stroke-width="1.0" />
<text x="439.65" y="230.3" font-size="12" text-anchor="middle" fill="#222" >200</text>
<line x1="470.62" y1="213.5" x2="470.62" y2="215.5" stroke="#3a3a3a" stroke-width="1.0" />
<line x1="470.62" y1="14" x2="470.62" y2="16" stroke="#3a3a3a" stroke-width="1.0" />
<line x1="501.6" y1="213.5" x2="501.6" y2="217.5" stroke="#3a3a3a" stroke-width="1.0" />
<line x1="501.6" y1="14" x2="501.6" y2="17" stroke="#3a3a3a" stroke-width="1.0" />
<text x="501.6" y="230.3" font-size="12" text-anchor="middle" fill="#222" >400</text>
<line x1="532.58" y1="213.5" x2="532.58" y2="215.5" stroke="#3a3a3a" stroke-width="1.0" />
<line x1="532.58" y1="14" x2="532.58" y2="16" stroke="#3a3a3a" stroke-width="1.0" />
<line x1="563.55" y1="213.5" x2="563.55" y2="217.5" stroke="#3a3a3a" stroke-width="1.0" />
<line x1="563.55" y1="14" x2="563.55" y2="17" stroke="#3a3a3a" stroke-width="1.0" />
<text x="563.55" y="230.3" font-size="12" text-anchor="middle" fill="#222" >600</text>
<line x1="594.52" y1="213.5" x2="594.52" y2="215.5" stroke="#3a3a3a" stroke-width="1.0" />
<line x1="594.52" y1="14" x2="594.52" y2="16" stroke="#3a3a3a" stroke-width="1.0" />
<line x1="625.5" y1="213.5" x2="625.5" y2="217.5" stroke="#3a3a3a" stroke-width="1.0" />
<line x1="625.5" y1="14" x2="625.5" y2="17" stroke="#3a3a3a" stroke-width="1.0" />
<text x="625.5" y="230.3" font-size="12" text-anchor="middle" fill="#222" >800</text>
<line x1="373.7" y1="213.5" x2="377.7" y2="213.5" stroke="#3a3a3a" stroke-width="1.0" />
<line x1="622.5" y1="213.5" x2="625.5" y2="213.5" stroke="#3a3a3a" stroke-width="1.0" />
<text x="371.4" y="217.4" font-size="12" text-anchor="end" fill="#222" >0.0</text>
<line x1="375.7" y1="196.88" x2="377.7" y2="196.88" stroke="#3a3a3a" stroke-width="1.0" />
<line x1="623.5" y1="196.88" x2="625.5" y2="196.88" stroke="#3a3a3a" stroke-width="1.0" />
<line x1="373.7" y1="180.25" x2="377.7" y2="180.25" stroke="#3a3a3a" stroke-width="1.0" />
<line x1="622.5" y1="180.25" x2="625.5" y2="180.25" stroke="#3a3a3a" stroke-width="1.0" />
<text x="371.4" y="184.15" font-size="12" text-anchor="end" fill="#222" >0.1</text>
<line x1="375.7" y1="163.62" x2="377.7" y2="163.62" stroke="#3a3a3a" stroke-width="1.0" />
<line x1="623.5" y1="163.62" x2="625.5" y2="163.62" stroke="#3a3a3a" stroke-width="1.0" />
<line x1="373.7" y1="147" x2="377.7" y2="147" stroke="#3a3a3a" stroke-width="1.0" />
<line x1="622.5" y1="147" x2="625.5" y2="147" stroke="#3a3a3a" stroke-width="1.0" />
<text x="371.4" y="150.9" font-size="12" text-anchor="end" fill="#222" >0.2</text>
<line x1="375.7" y1="130.38" x2="377.7" y2="130.38" stroke="#3a3a3a" stroke-width="1.0" />
<line x1="623.5" y1="130.38" x2="625.5" y2="130.38" stroke="#3a3a3a" stroke-width="1.0" />
<line x1="373.7" y1="113.75" x2="377.7" y2="113.75" stroke="#3a3a3a" stroke-width="1.0" />
<line x1="622.5" y1="113.75" x2="625.5" y2="113.75" stroke="#3a3a3a" stroke-width="1.0" />
<text x="371.4" y="117.65" font-size="12" text-anchor="end" fill="#222" >0.3</text>
<line x1="375.7" y1="97.12" x2="377.7" y2="97.12" stroke="#3a3a3a" stroke-width="1.0" />
<line x1="623.5" y1="97.12" x2="625.5" y2="97.12" stroke="#3a3a3a" stroke-width="1.0" />
<line x1="373.7" y1="80.5" x2="377.7" y2="80.5" stroke="#3a3a3a" stroke-width="1.0" />
<line x1="622.5" y1="80.5" x2="625.5" y2="80.5" stroke="#3a3a3a" stroke-width="1.0" />
<text x="371.4" y="84.4" font-size="12" text-anchor="end" fill="#222" >0.4</text>
<line x1="375.7" y1="63.88" x2="377.7" y2="63.88" stroke="#3a3a3a" stroke-width="1.0" />
<line x1="623.5" y1="63.88" x2="625.5" y2="63.88" stroke="#3a3a3a" stroke-width="1.0" />
<line x1="373.7" y1="47.25" x2="377.7" y2="47.25" stroke="#3a3a3a" stroke-width="1.0" />
<line x1="622.5" y1="47.25" x2="625.5" y2="47.25" stroke="#3a3a3a" stroke-width="1.0" />
<text x="371.4" y="51.15" font-size="12" text-anchor="end" fill="#222" >0.5</text>
<line x1="375.7" y1="30.62" x2="377.7" y2="30.62" stroke="#3a3a3a" stroke-width="1.0" />
<line x1="623.5" y1="30.62" x2="625.5" y2="30.62" stroke="#3a3a3a" stroke-width="1.0" />
<line x1="373.7" y1="14" x2="377.7" y2="14" stroke="#3a3a3a" stroke-width="1.0" />
<line x1="622.5" y1="14" x2="625.5" y2="14" stroke="#3a3a3a" stroke-width="1.0" />
<text x="371.4" y="17.9" font-size="12" text-anchor="end" fill="#222" >0.6</text>
<line x1="383.4" y1="28.3" x2="411.7" y2="28.3" stroke="#ee2a30" stroke-width="2.0" />
<text x="415.1" y="32.8" font-size="12" text-anchor="start" fill="#222" >Original</text>
<line x1="383.4" y1="43.6" x2="411.7" y2="43.6" stroke="#1e1e1e" stroke-width="2.0" />
<text x="415.1" y="48.1" font-size="12" text-anchor="start" fill="#222" >2min in air</text>
<line x1="383.4" y1="62.1" x2="411.7" y2="62.1" stroke="#fdbb2c" stroke-width="2.0" />
<text x="415.1" y="66.6" font-size="12" text-anchor="start" fill="#222" >2min at -20<tspan dy="-5.8" font-size="8">O</tspan><tspan dy="5.8">C</tspan></text>
<line x1="383.4" y1="80.1" x2="411.7" y2="80.1" stroke="#55c883" stroke-width="2.0" />
<text x="415.1" y="84.6" font-size="12" text-anchor="start" fill="#222" >2min at 70<tspan dy="-5.8" font-size="8">O</tspan><tspan dy="5.8">C</tspan></text>
<line x1="383.4" y1="95.8" x2="411.7" y2="95.8" stroke="#4a8fd8" stroke-width="2.0" />
<text x="415.1" y="100.3" font-size="12" text-anchor="start" fill="#222" >2min underwater</text>
<text x="501.3" y="242.7" font-size="14" text-anchor="middle" fill="#222" >Strain (%)</text>
<text x="349.5" y="111.5" font-size="14" text-anchor="middle" fill="#222" transform="rotate(-90 349.5,111.5)">Stress (MPa)</text>
<text x="327.3" y="18.4" font-size="20" text-anchor="start" fill="#222" >b</text>
<line x1="727.36" y1="101.02" x2="744.28" y2="119.78" stroke="#7ba3cf" stroke-width="1.1" />
<line x1="750.94" y1="124.59" x2="765.79" y2="131.11" stroke="#7ba3cf" stroke-width="1.1" />
<line x1="773.78" y1="133.5" x2="788.04" y2="135.9" stroke="#7ba3cf" stroke-width="1.1" />
<line x1="796.35" y1="137.08" x2="810.55" y2="138.72" stroke="#7ba3cf" stroke-width="1.1" />
<line x1="818.87" y1="139.86" x2="833.13" y2="142.14" stroke="#7ba3cf" stroke-width="1.1" />
<line x1="841.46" y1="143.12" x2="855.63" y2="144.18" stroke="#7ba3cf" stroke-width="1.1" />
<line x1="864.02" y1="144.5" x2="878.16" y2="144.5" stroke="#7ba3cf" stroke-width="1.1" />
<line x1="886.56" y1="144.37" x2="900.71" y2="143.93" stroke="#7ba3cf" stroke-width="1.1" />
<line x1="909.1" y1="144.13" x2="923.27" y2="145.27" stroke="#7ba3cf" stroke-width="1.1" />
<polyline points="724.55,91 747.09,128.5 769.64,153 792.18,165.7 814.73,164.2 837.27,162.9 859.82,166 882.36,168.3 904.91,171.1 927.45,176.2" fill="none" stroke="#f23a3c" stroke-width="1.4"/>
<rect x="721.95" y="95.3" width="5.2" height="5.2" fill="#3f86d0"/>
<rect x="744.49" y="120.3" width="5.2" height="5.2" fill="#3f86d0"/>
<rect x="767.04" y="130.2" width="5.2" height="5.2" fill="#3f86d0"/>
<rect x="789.58" y="134" width="5.2" height="5.2" fill="#3f86d0"/>
<rect x="812.13" y="136.6" width="5.2" height="5.2" fill="#3f86d0"/>
<rect x="834.67" y="140.2" width="5.2" height="5.2" fill="#3f86d0"/>
<rect x="857.22" y="141.9" width="5.2" height="5.2" fill="#3f86d0"/>
<rect x="879.76" y="141.9" width="5.2" height="5.2" fill="#3f86d0"/>
<rect x="902.31" y="141.2" width="5.2" height="5.2" fill="#3f86d0"/>
<rect x="924.85" y="143" width="5.2" height="5.2" fill="#3f86d0"/>
<circle cx="724.55" cy="91" r="3.1" fill="#f23a3c"/>
<circle cx="747.09" cy="128.5" r="3.1" fill="#f23a3c"/>
<circle cx="769.64" cy="153" r="3.1" fill="#f23a3c"/>
<circle cx="792.18" cy="165.7" r="3.1" fill="#f23a3c"/>
<circle cx="814.73" cy="164.2" r="3.1" fill="#f23a3c"/>
<circle cx="837.27" cy="162.9" r="3.1" fill="#f23a3c"/>
<circle cx="859.82" cy="166" r="3.1" fill="#f23a3c"/>
<circle cx="882.36" cy="168.3" r="3.1" fill="#f23a3c"/>
<circle cx="904.91" cy="171.1" r="3.1" fill="#f23a3c"/>
<circle cx="927.45" cy="176.2" r="3.1" fill="#f23a3c"/>
<line x1="702" y1="13.5" x2="950" y2="13.5" stroke="#3a3a3a" stroke-width="1.1" />
<line x1="702" y1="213" x2="950" y2="213" stroke="#3a3a3a" stroke-width="1.1" />
<line x1="702" y1="13.5" x2="702" y2="213" stroke="#ff4a4a" stroke-width="1.2" />
<line x1="950" y1="13.5" x2="950" y2="213" stroke="#5d9bdc" stroke-width="1.2" />
<line x1="702" y1="213" x2="702" y2="217" stroke="#3a3a3a" stroke-width="1.0" />
<line x1="702" y1="13.5" x2="702" y2="16.5" stroke="#3a3a3a" stroke-width="1.0" />
<text x="702" y="229.8" font-size="12" text-anchor="middle" fill="#222" >0</text>
<line x1="724.55" y1="213" x2="724.55" y2="215" stroke="#3a3a3a" stroke-width="1.0" />
<line x1="724.55" y1="13.5" x2="724.55" y2="15.5" stroke="#3a3a3a" stroke-width="1.0" />
<line x1="747.09" y1="213" x2="747.09" y2="217" stroke="#3a3a3a" stroke-width="1.0" />
<line x1="747.09" y1="13.5" x2="747.09" y2="16.5" stroke="#3a3a3a" stroke-width="1.0" />
<text x="747.09" y="229.8" font-size="12" text-anchor="middle" fill="#222" >2</text>
<line x1="769.64" y1="213" x2="769.64" y2="215" stroke="#3a3a3a" stroke-width="1.0" />
<line x1="769.64" y1="13.5" x2="769.64" y2="15.5" stroke="#3a3a3a" stroke-width="1.0" />
<line x1="792.18" y1="213" x2="792.18" y2="217" stroke="#3a3a3a" stroke-width="1.0" />
<line x1="792.18" y1="13.5" x2="792.18" y2="16.5" stroke="#3a3a3a" stroke-width="1.0" />
<text x="792.18" y="229.8" font-size="12" text-anchor="middle" fill="#222" >4</text>
<line x1="814.73" y1="213" x2="814.73" y2="215" stroke="#3a3a3a" stroke-width="1.0" />
<line x1="814.73" y1="13.5" x2="814.73" y2="15.5" stroke="#3a3a3a" stroke-width="1.0" />
<line x1="837.27" y1="213" x2="837.27" y2="217" stroke="#3a3a3a" stroke-width="1.0" />
<line x1="837.27" y1="13.5" x2="837.27" y2="16.5" stroke="#3a3a3a" stroke-width="1.0" />
<text x="837.27" y="229.8" font-size="12" text-anchor="middle" fill="#222" >6</text>
<line x1="859.82" y1="213" x2="859.82" y2="215" stroke="#3a3a3a" stroke-width="1.0" />
<line x1="859.82" y1="13.5" x2="859.82" y2="15.5" stroke="#3a3a3a" stroke-width="1.0" />
<line x1="882.36" y1="213" x2="882.36" y2="217" stroke="#3a3a3a" stroke-width="1.0" />
<line x1="882.36" y1="13.5" x2="882.36" y2="16.5" stroke="#3a3a3a" stroke-width="1.0" />
<text x="882.36" y="229.8" font-size="12" text-anchor="middle" fill="#222" >8</text>
<line x1="904.91" y1="213" x2="904.91" y2="215" stroke="#3a3a3a" stroke-width="1.0" />
<line x1="904.91" y1="13.5" x2="904.91" y2="15.5" stroke="#3a3a3a" stroke-width="1.0" />
<line x1="927.45" y1="213" x2="927.45" y2="217" stroke="#3a3a3a" stroke-width="1.0" />
<line x1="927.45" y1="13.5" x2="927.45" y2="16.5" stroke="#3a3a3a" stroke-width="1.0" />
<text x="927.45" y="229.8" font-size="12" text-anchor="middle" fill="#222" >10</text>
<line x1="950" y1="213" x2="950" y2="215" stroke="#3a3a3a" stroke-width="1.0" />
<line x1="950" y1="13.5" x2="950" y2="15.5" stroke="#3a3a3a" stroke-width="1.0" />
<line x1="698" y1="213" x2="702" y2="213" stroke="#ff4a4a" stroke-width="1" />
<text x="696.4" y="216.9" font-size="12" text-anchor="end" fill="#ff4a4a" >0</text>
<line x1="700" y1="188.06" x2="702" y2="188.06" stroke="#ff4a4a" stroke-width="1" />
<line x1="698" y1="163.12" x2="702" y2="163.12" stroke="#ff4a4a" stroke-width="1" />
<text x="696.4" y="167.03" font-size="12" text-anchor="end" fill="#ff4a4a" >150</text>
<line x1="700" y1="138.19" x2="702" y2="138.19" stroke="#ff4a4a" stroke-width="1" />
<line x1="698" y1="113.25" x2="702" y2="113.25" stroke="#ff4a4a" stroke-width="1" />
<text x="696.4" y="117.15" font-size="12" text-anchor="end" fill="#ff4a4a" >300</text>
<line x1="700" y1="88.31" x2="702" y2="88.31" stroke="#ff4a4a" stroke-width="1" />
<line x1="698" y1="63.38" x2="702" y2="63.38" stroke="#ff4a4a" stroke-width="1" />
<text x="696.4" y="67.28" font-size="12" text-anchor="end" fill="#ff4a4a" >450</text>
<line x1="700" y1="38.44" x2="702" y2="38.44" stroke="#ff4a4a" stroke-width="1" />
<line x1="698" y1="13.5" x2="702" y2="13.5" stroke="#ff4a4a" stroke-width="1" />
<text x="696.4" y="17.4" font-size="12" text-anchor="end" fill="#ff4a4a" >600</text>
<line x1="950" y1="213" x2="954" y2="213" stroke="#5d9bdc" stroke-width="1" />
<text x="956.3" y="216.9" font-size="12" text-anchor="start" fill="#4a8fd8" >0.0</text>
<line x1="950" y1="188.06" x2="952" y2="188.06" stroke="#5d9bdc" stroke-width="1" />
<line x1="950" y1="163.12" x2="954" y2="163.12" stroke="#5d9bdc" stroke-width="1" />
<text x="956.3" y="167.03" font-size="12" text-anchor="start" fill="#4a8fd8" >0.1</text>
<line x1="950" y1="138.19" x2="952" y2="138.19" stroke="#5d9bdc" stroke-width="1" />
<line x1="950" y1="113.25" x2="954" y2="113.25" stroke="#5d9bdc" stroke-width="1" />
<text x="956.3" y="117.15" font-size="12" text-anchor="start" fill="#4a8fd8" >0.2</text>
<line x1="950" y1="88.31" x2="952" y2="88.31" stroke="#5d9bdc" stroke-width="1" />
<line x1="950" y1="63.37" x2="954" y2="63.37" stroke="#5d9bdc" stroke-width="1" />
<text x="956.3" y="67.27" font-size="12" text-anchor="start" fill="#4a8fd8" >0.3</text>
<line x1="950" y1="38.44" x2="952" y2="38.44" stroke="#5d9bdc" stroke-width="1" />
<line x1="950" y1="13.5" x2="954" y2="13.5" stroke="#5d9bdc" stroke-width="1" />
<text x="956.3" y="17.4" font-size="12" text-anchor="start" fill="#4a8fd8" >0.4</text>
<line x1="710.2" y1="31.8" x2="738.7" y2="31.8" stroke="#f23a3c" stroke-width="1.8" />
<circle cx="724.5" cy="31.8" r="3.3" fill="#f23a3c"/>
<text x="743.2" y="36.2" font-size="12.3" text-anchor="start" fill="#222" >Maximum elongation</text>
<line x1="710.2" y1="51" x2="738.7" y2="51" stroke="#7ba3cf" stroke-width="1.1" />
<rect x="721.9" y="48.4" width="5.2" height="5.2" fill="#3f86d0"/>
<text x="743.2" y="55.4" font-size="12.3" text-anchor="start" fill="#222" >Tensile strength</text>
<text x="826.4" y="242.7" font-size="14" text-anchor="middle" fill="#222" >Self-healing cycles</text>
<text x="672.5" y="112.6" font-size="14.2" text-anchor="middle" fill="#ff2a2a" transform="rotate(-90 672.5,112.6)">Maximum elongation strain (%)</text>
<text x="988" y="105" font-size="14" text-anchor="middle" fill="#4a8fd8" transform="rotate(-90 988,105)">Tensile strength (MPa)</text>
<text x="643" y="18.3" font-size="20.5" text-anchor="start" fill="#222" >c</text>
<ellipse cx="445" cy="360.5" rx="95" ry="55" transform="rotate(53.5 445 360.5)" fill="#ffd5d6"/>
<ellipse cx="567.7" cy="439.7" rx="54.6" ry="23.4" transform="rotate(8.7 567.7 439.7)" fill="#d3e4f3"/>
<circle cx="383.5" cy="302" r="3.25" fill="#ef3b40"/>
<circle cx="415.3" cy="303.5" r="3.25" fill="#ef3b40"/>
<circle cx="424.6" cy="338" r="3.25" fill="#ef3b40"/>
<circle cx="399.5" cy="362" r="3.25" fill="#ef3b40"/>
<circle cx="399.5" cy="365.5" r="3.25" fill="#ef3b40"/>
<circle cx="399.5" cy="369" r="3.25" fill="#ef3b40"/>
<circle cx="399.5" cy="372" r="3.25" fill="#ef3b40"/>
<circle cx="415.3" cy="386.1" r="3.25" fill="#ef3b40"/>
<circle cx="463" cy="347.4" r="3.25" fill="#ef3b40"/>
<circle cx="472.1" cy="358" r="3.25" fill="#ef3b40"/>
<circle cx="472.1" cy="375.2" r="3.25" fill="#ef3b40"/>
<circle cx="487.8" cy="397.6" r="3.25" fill="#ef3b40"/>
<circle cx="472.1" cy="412.1" r="3.25" fill="#ef3b40"/>
<polygon points="544.9,443.5 549.2,447.8 544.9,452.1 540.6,447.8" fill="#5b92d0"/>
<polygon points="565.9,443.5 570.2,447.8 565.9,452.1 561.6,447.8" fill="#5b92d0"/>
<polygon points="598,436.8 602.3,441.1 598,445.4 593.7,441.1" fill="#5b92d0"/>
<polygon points="545.2,352.6 546.73,356.7 551.1,356.88 547.67,359.6 548.84,363.82 545.2,361.4 541.56,363.82 542.73,359.6 539.3,356.88 543.67,356.7" fill="#2fbb68"/>
<text x="473.3" y="290.7" font-size="12" text-anchor="start" fill="#f26d6f" >Self-healing</text>
<text x="473.3" y="305.1" font-size="12" text-anchor="start" fill="#f26d6f" >elastomeric gels</text>
<text x="519.4" y="349.3" font-size="12" text-anchor="start" fill="#2fbb68" >SHSME material</text>
<text x="588.7" y="398.5" font-size="12" text-anchor="middle" fill="#4a8ad0" >Self-healing</text>
<text x="588.5" y="413" font-size="12" text-anchor="middle" fill="#4a8ad0" >hydrogels</text>
<line x1="415.6" y1="457.5" x2="415.6" y2="476.7" stroke="#444" stroke-width="1" stroke-dasharray="3,2"/>
<line x1="488.2" y1="457.5" x2="488.2" y2="476.7" stroke="#444" stroke-width="1" stroke-dasharray="3,2"/>
<line x1="545" y1="460.5" x2="545" y2="476.7" stroke="#444" stroke-width="1" stroke-dasharray="3,2"/>
<text x="412" y="472.5" font-size="12" text-anchor="end" fill="#222" >24 h</text>
<text x="484.5" y="472.5" font-size="12" text-anchor="end" fill="#222" >1 h</text>
<text x="540.5" y="472.5" font-size="12" text-anchor="end" fill="#222" >5 min</text>
<rect x="371.3" y="265" width="263.1" height="211.7" fill="none" stroke="#3a3a3a" stroke-width="1.1"/>
<line x1="371.3" y1="476.7" x2="371.3" y2="480.7" stroke="#3a3a3a" stroke-width="1.0" />
<line x1="371.3" y1="265" x2="371.3" y2="268" stroke="#3a3a3a" stroke-width="1.0" />
<text x="363.1" y="494.9" font-size="11" fill="#222">10<tspan font-size="7.5" dy="-4.6">4</tspan></text>
<line x1="408.08" y1="476.7" x2="408.08" y2="478.7" stroke="#3a3a3a" stroke-width="1.0" />
<line x1="408.08" y1="265" x2="408.08" y2="267" stroke="#3a3a3a" stroke-width="1.0" />
<line x1="398.81" y1="476.7" x2="398.81" y2="478.7" stroke="#3a3a3a" stroke-width="1.0" />
<line x1="398.81" y1="265" x2="398.81" y2="267" stroke="#3a3a3a" stroke-width="1.0" />
<line x1="392.24" y1="476.7" x2="392.24" y2="478.7" stroke="#3a3a3a" stroke-width="1.0" />
<line x1="392.24" y1="265" x2="392.24" y2="267" stroke="#3a3a3a" stroke-width="1.0" />
<line x1="387.14" y1="476.7" x2="387.14" y2="478.7" stroke="#3a3a3a" stroke-width="1.0" />
<line x1="387.14" y1="265" x2="387.14" y2="267" stroke="#3a3a3a" stroke-width="1.0" />
<line x1="382.97" y1="476.7" x2="382.97" y2="478.7" stroke="#3a3a3a" stroke-width="1.0" />
<line x1="382.97" y1="265" x2="382.97" y2="267" stroke="#3a3a3a" stroke-width="1.0" />
<line x1="379.45" y1="476.7" x2="379.45" y2="478.7" stroke="#3a3a3a" stroke-width="1.0" />
<line x1="379.45" y1="265" x2="379.45" y2="267" stroke="#3a3a3a" stroke-width="1.0" />
<line x1="376.4" y1="476.7" x2="376.4" y2="478.7" stroke="#3a3a3a" stroke-width="1.0" />
<line x1="376.4" y1="265" x2="376.4" y2="267" stroke="#3a3a3a" stroke-width="1.0" />
<line x1="373.71" y1="476.7" x2="373.71" y2="478.7" stroke="#3a3a3a" stroke-width="1.0" />
<line x1="373.71" y1="265" x2="373.71" y2="267" stroke="#3a3a3a" stroke-width="1.0" />
<line x1="423.92" y1="476.7" x2="423.92" y2="480.7" stroke="#3a3a3a" stroke-width="1.0" />
<line x1="423.92" y1="265" x2="423.92" y2="268" stroke="#3a3a3a" stroke-width="1.0" />
<text x="415.72" y="494.9" font-size="11" fill="#222">10<tspan font-size="7.5" dy="-4.6">3</tspan></text>
<line x1="460.7" y1="476.7" x2="460.7" y2="478.7" stroke="#3a3a3a" stroke-width="1.0" />
<line x1="460.7" y1="265" x2="460.7" y2="267" stroke="#3a3a3a" stroke-width="1.0" />
<line x1="451.43" y1="476.7" x2="451.43" y2="478.7" stroke="#3a3a3a" stroke-width="1.0" />
<line x1="451.43" y1="265" x2="451.43" y2="267" stroke="#3a3a3a" stroke-width="1.0" />
<line x1="444.86" y1="476.7" x2="444.86" y2="478.7" stroke="#3a3a3a" stroke-width="1.0" />
<line x1="444.86" y1="265" x2="444.86" y2="267" stroke="#3a3a3a" stroke-width="1.0" />
<line x1="439.76" y1="476.7" x2="439.76" y2="478.7" stroke="#3a3a3a" stroke-width="1.0" />
<line x1="439.76" y1="265" x2="439.76" y2="267" stroke="#3a3a3a" stroke-width="1.0" />
<line x1="435.59" y1="476.7" x2="435.59" y2="478.7" stroke="#3a3a3a" stroke-width="1.0" />
<line x1="435.59" y1="265" x2="435.59" y2="267" stroke="#3a3a3a" stroke-width="1.0" />
<line x1="432.07" y1="476.7" x2="432.07" y2="478.7" stroke="#3a3a3a" stroke-width="1.0" />
<line x1="432.07" y1="265" x2="432.07" y2="267" stroke="#3a3a3a" stroke-width="1.0" />
<line x1="429.02" y1="476.7" x2="429.02" y2="478.7" stroke="#3a3a3a" stroke-width="1.0" />
<line x1="429.02" y1="265" x2="429.02" y2="267" stroke="#3a3a3a" stroke-width="1.0" />
<line x1="426.33" y1="476.7" x2="426.33" y2="478.7" stroke="#3a3a3a" stroke-width="1.0" />
<line x1="426.33" y1="265" x2="426.33" y2="267" stroke="#3a3a3a" stroke-width="1.0" />
<line x1="476.54" y1="476.7" x2="476.54" y2="480.7" stroke="#3a3a3a" stroke-width="1.0" />
<line x1="476.54" y1="265" x2="476.54" y2="268" stroke="#3a3a3a" stroke-width="1.0" />
<text x="468.34" y="494.9" font-size="11" fill="#222">10<tspan font-size="7.5" dy="-4.6">2</tspan></text>
<line x1="513.32" y1="476.7" x2="513.32" y2="478.7" stroke="#3a3a3a" stroke-width="1.0" />
<line x1="513.32" y1="265" x2="513.32" y2="267" stroke="#3a3a3a" stroke-width="1.0" />
<line x1="504.05" y1="476.7" x2="504.05" y2="478.7" stroke="#3a3a3a" stroke-width="1.0" />
<line x1="504.05" y1="265" x2="504.05" y2="267" stroke="#3a3a3a" stroke-width="1.0" />
<line x1="497.48" y1="476.7" x2="497.48" y2="478.7" stroke="#3a3a3a" stroke-width="1.0" />
<line x1="497.48" y1="265" x2="497.48" y2="267" stroke="#3a3a3a" stroke-width="1.0" />
<line x1="492.38" y1="476.7" x2="492.38" y2="478.7" stroke="#3a3a3a" stroke-width="1.0" />
<line x1="492.38" y1="265" x2="492.38" y2="267" stroke="#3a3a3a" stroke-width="1.0" />
<line x1="488.21" y1="476.7" x2="488.21" y2="478.7" stroke="#3a3a3a" stroke-width="1.0" />
<line x1="488.21" y1="265" x2="488.21" y2="267" stroke="#3a3a3a" stroke-width="1.0" />
<line x1="484.69" y1="476.7" x2="484.69" y2="478.7" stroke="#3a3a3a" stroke-width="1.0" />
<line x1="484.69" y1="265" x2="484.69" y2="267" stroke="#3a3a3a" stroke-width="1.0" />
<line x1="481.64" y1="476.7" x2="481.64" y2="478.7" stroke="#3a3a3a" stroke-width="1.0" />
<line x1="481.64" y1="265" x2="481.64" y2="267" stroke="#3a3a3a" stroke-width="1.0" />
<line x1="478.95" y1="476.7" x2="478.95" y2="478.7" stroke="#3a3a3a" stroke-width="1.0" />
<line x1="478.95" y1="265" x2="478.95" y2="267" stroke="#3a3a3a" stroke-width="1.0" />
<line x1="529.16" y1="476.7" x2="529.16" y2="480.7" stroke="#3a3a3a" stroke-width="1.0" />
<line x1="529.16" y1="265" x2="529.16" y2="268" stroke="#3a3a3a" stroke-width="1.0" />
<text x="520.96" y="494.9" font-size="11" fill="#222">10<tspan font-size="7.5" dy="-4.6">1</tspan></text>
<line x1="565.94" y1="476.7" x2="565.94" y2="478.7" stroke="#3a3a3a" stroke-width="1.0" />
<line x1="565.94" y1="265" x2="565.94" y2="267" stroke="#3a3a3a" stroke-width="1.0" />
<line x1="556.67" y1="476.7" x2="556.67" y2="478.7" stroke="#3a3a3a" stroke-width="1.0" />
<line x1="556.67" y1="265" x2="556.67" y2="267" stroke="#3a3a3a" stroke-width="1.0" />
<line x1="550.1" y1="476.7" x2="550.1" y2="478.7" stroke="#3a3a3a" stroke-width="1.0" />
<line x1="550.1" y1="265" x2="550.1" y2="267" stroke="#3a3a3a" stroke-width="1.0" />
<line x1="545" y1="476.7" x2="545" y2="478.7" stroke="#3a3a3a" stroke-width="1.0" />
<line x1="545" y1="265" x2="545" y2="267" stroke="#3a3a3a" stroke-width="1.0" />
<line x1="540.83" y1="476.7" x2="540.83" y2="478.7" stroke="#3a3a3a" stroke-width="1.0" />
<line x1="540.83" y1="265" x2="540.83" y2="267" stroke="#3a3a3a" stroke-width="1.0" />
<line x1="537.31" y1="476.7" x2="537.31" y2="478.7" stroke="#3a3a3a" stroke-width="1.0" />
<line x1="537.31" y1="265" x2="537.31" y2="267" stroke="#3a3a3a" stroke-width="1.0" />
<line x1="534.26" y1="476.7" x2="534.26" y2="478.7" stroke="#3a3a3a" stroke-width="1.0" />
<line x1="534.26" y1="265" x2="534.26" y2="267" stroke="#3a3a3a" stroke-width="1.0" />
<line x1="531.57" y1="476.7" x2="531.57" y2="478.7" stroke="#3a3a3a" stroke-width="1.0" />
<line x1="531.57" y1="265" x2="531.57" y2="267" stroke="#3a3a3a" stroke-width="1.0" />
<line x1="581.78" y1="476.7" x2="581.78" y2="480.7" stroke="#3a3a3a" stroke-width="1.0" />
<line x1="581.78" y1="265" x2="581.78" y2="268" stroke="#3a3a3a" stroke-width="1.0" />
<text x="573.58" y="494.9" font-size="11" fill="#222">10<tspan font-size="7.5" dy="-4.6">0</tspan></text>
<line x1="618.56" y1="476.7" x2="618.56" y2="478.7" stroke="#3a3a3a" stroke-width="1.0" />
<line x1="618.56" y1="265" x2="618.56" y2="267" stroke="#3a3a3a" stroke-width="1.0" />
<line x1="609.29" y1="476.7" x2="609.29" y2="478.7" stroke="#3a3a3a" stroke-width="1.0" />
<line x1="609.29" y1="265" x2="609.29" y2="267" stroke="#3a3a3a" stroke-width="1.0" />
<line x1="602.72" y1="476.7" x2="602.72" y2="478.7" stroke="#3a3a3a" stroke-width="1.0" />
<line x1="602.72" y1="265" x2="602.72" y2="267" stroke="#3a3a3a" stroke-width="1.0" />
<line x1="597.62" y1="476.7" x2="597.62" y2="478.7" stroke="#3a3a3a" stroke-width="1.0" />
<line x1="597.62" y1="265" x2="597.62" y2="267" stroke="#3a3a3a" stroke-width="1.0" />
<line x1="593.45" y1="476.7" x2="593.45" y2="478.7" stroke="#3a3a3a" stroke-width="1.0" />
<line x1="593.45" y1="265" x2="593.45" y2="267" stroke="#3a3a3a" stroke-width="1.0" />
<line x1="589.93" y1="476.7" x2="589.93" y2="478.7" stroke="#3a3a3a" stroke-width="1.0" />
<line x1="589.93" y1="265" x2="589.93" y2="267" stroke="#3a3a3a" stroke-width="1.0" />
<line x1="586.88" y1="476.7" x2="586.88" y2="478.7" stroke="#3a3a3a" stroke-width="1.0" />
<line x1="586.88" y1="265" x2="586.88" y2="267" stroke="#3a3a3a" stroke-width="1.0" />
<line x1="584.19" y1="476.7" x2="584.19" y2="478.7" stroke="#3a3a3a" stroke-width="1.0" />
<line x1="584.19" y1="265" x2="584.19" y2="267" stroke="#3a3a3a" stroke-width="1.0" />
<line x1="634.4" y1="476.7" x2="634.4" y2="480.7" stroke="#3a3a3a" stroke-width="1.0" />
<line x1="634.4" y1="265" x2="634.4" y2="268" stroke="#3a3a3a" stroke-width="1.0" />
<text x="624.01" y="494.9" font-size="11" fill="#222">10<tspan font-size="7.5" dy="-4.6">−1</tspan></text>
<line x1="367.3" y1="290.3" x2="371.3" y2="290.3" stroke="#3a3a3a" stroke-width="1.0" />
<line x1="631.4" y1="290.3" x2="634.4" y2="290.3" stroke="#3a3a3a" stroke-width="1.0" />
<line x1="369.3" y1="279.51" x2="371.3" y2="279.51" stroke="#3a3a3a" stroke-width="1.0" />
<line x1="632.4" y1="279.51" x2="634.4" y2="279.51" stroke="#3a3a3a" stroke-width="1.0" />
<line x1="369.3" y1="273.2" x2="371.3" y2="273.2" stroke="#3a3a3a" stroke-width="1.0" />
<line x1="632.4" y1="273.2" x2="634.4" y2="273.2" stroke="#3a3a3a" stroke-width="1.0" />
<line x1="369.3" y1="268.72" x2="371.3" y2="268.72" stroke="#3a3a3a" stroke-width="1.0" />
<line x1="632.4" y1="268.72" x2="634.4" y2="268.72" stroke="#3a3a3a" stroke-width="1.0" />
<line x1="369.3" y1="265.25" x2="371.3" y2="265.25" stroke="#3a3a3a" stroke-width="1.0" />
<line x1="632.4" y1="265.25" x2="634.4" y2="265.25" stroke="#3a3a3a" stroke-width="1.0" />
<line x1="367.3" y1="326.14" x2="371.3" y2="326.14" stroke="#3a3a3a" stroke-width="1.0" />
<line x1="631.4" y1="326.14" x2="634.4" y2="326.14" stroke="#3a3a3a" stroke-width="1.0" />
<line x1="369.3" y1="315.35" x2="371.3" y2="315.35" stroke="#3a3a3a" stroke-width="1.0" />
<line x1="632.4" y1="315.35" x2="634.4" y2="315.35" stroke="#3a3a3a" stroke-width="1.0" />
<line x1="369.3" y1="309.04" x2="371.3" y2="309.04" stroke="#3a3a3a" stroke-width="1.0" />
<line x1="632.4" y1="309.04" x2="634.4" y2="309.04" stroke="#3a3a3a" stroke-width="1.0" />
<line x1="369.3" y1="304.56" x2="371.3" y2="304.56" stroke="#3a3a3a" stroke-width="1.0" />
<line x1="632.4" y1="304.56" x2="634.4" y2="304.56" stroke="#3a3a3a" stroke-width="1.0" />
<line x1="369.3" y1="301.09" x2="371.3" y2="301.09" stroke="#3a3a3a" stroke-width="1.0" />
<line x1="632.4" y1="301.09" x2="634.4" y2="301.09" stroke="#3a3a3a" stroke-width="1.0" />
<line x1="369.3" y1="298.25" x2="371.3" y2="298.25" stroke="#3a3a3a" stroke-width="1.0" />
<line x1="632.4" y1="298.25" x2="634.4" y2="298.25" stroke="#3a3a3a" stroke-width="1.0" />
<line x1="369.3" y1="295.85" x2="371.3" y2="295.85" stroke="#3a3a3a" stroke-width="1.0" />
<line x1="632.4" y1="295.85" x2="634.4" y2="295.85" stroke="#3a3a3a" stroke-width="1.0" />
<line x1="369.3" y1="293.77" x2="371.3" y2="293.77" stroke="#3a3a3a" stroke-width="1.0" />
<line x1="632.4" y1="293.77" x2="634.4" y2="293.77" stroke="#3a3a3a" stroke-width="1.0" />
<line x1="369.3" y1="291.94" x2="371.3" y2="291.94" stroke="#3a3a3a" stroke-width="1.0" />
<line x1="632.4" y1="291.94" x2="634.4" y2="291.94" stroke="#3a3a3a" stroke-width="1.0" />
<line x1="367.3" y1="361.98" x2="371.3" y2="361.98" stroke="#3a3a3a" stroke-width="1.0" />
<line x1="631.4" y1="361.98" x2="634.4" y2="361.98" stroke="#3a3a3a" stroke-width="1.0" />
<line x1="369.3" y1="351.19" x2="371.3" y2="351.19" stroke="#3a3a3a" stroke-width="1.0" />
<line x1="632.4" y1="351.19" x2="634.4" y2="351.19" stroke="#3a3a3a" stroke-width="1.0" />
<line x1="369.3" y1="344.88" x2="371.3" y2="344.88" stroke="#3a3a3a" stroke-width="1.0" />
<line x1="632.4" y1="344.88" x2="634.4" y2="344.88" stroke="#3a3a3a" stroke-width="1.0" />
<line x1="369.3" y1="340.4" x2="371.3" y2="340.4" stroke="#3a3a3a" stroke-width="1.0" />
<line x1="632.4" y1="340.4" x2="634.4" y2="340.4" stroke="#3a3a3a" stroke-width="1.0" />
<line x1="369.3" y1="336.93" x2="371.3" y2="336.93" stroke="#3a3a3a" stroke-width="1.0" />
<line x1="632.4" y1="336.93" x2="634.4" y2="336.93" stroke="#3a3a3a" stroke-width="1.0" />
<line x1="369.3" y1="334.09" x2="371.3" y2="334.09" stroke="#3a3a3a" stroke-width="1.0" />
<line x1="632.4" y1="334.09" x2="634.4" y2="334.09" stroke="#3a3a3a" stroke-width="1.0" />
<line x1="369.3" y1="331.69" x2="371.3" y2="331.69" stroke="#3a3a3a" stroke-width="1.0" />
<line x1="632.4" y1="331.69" x2="634.4" y2="331.69" stroke="#3a3a3a" stroke-width="1.0" />
<line x1="369.3" y1="329.61" x2="371.3" y2="329.61" stroke="#3a3a3a" stroke-width="1.0" />
<line x1="632.4" y1="329.61" x2="634.4" y2="329.61" stroke="#3a3a3a" stroke-width="1.0" />
<line x1="369.3" y1="327.78" x2="371.3" y2="327.78" stroke="#3a3a3a" stroke-width="1.0" />
<line x1="632.4" y1="327.78" x2="634.4" y2="327.78" stroke="#3a3a3a" stroke-width="1.0" />
<line x1="367.3" y1="397.82" x2="371.3" y2="397.82" stroke="#3a3a3a" stroke-width="1.0" />
<line x1="631.4" y1="397.82" x2="634.4" y2="397.82" stroke="#3a3a3a" stroke-width="1.0" />
<line x1="369.3" y1="387.03" x2="371.3" y2="387.03" stroke="#3a3a3a" stroke-width="1.0" />
<line x1="632.4" y1="387.03" x2="634.4" y2="387.03" stroke="#3a3a3a" stroke-width="1.0" />
<line x1="369.3" y1="380.72" x2="371.3" y2="380.72" stroke="#3a3a3a" stroke-width="1.0" />
<line x1="632.4" y1="380.72" x2="634.4" y2="380.72" stroke="#3a3a3a" stroke-width="1.0" />
<line x1="369.3" y1="376.24" x2="371.3" y2="376.24" stroke="#3a3a3a" stroke-width="1.0" />
<line x1="632.4" y1="376.24" x2="634.4" y2="376.24" stroke="#3a3a3a" stroke-width="1.0" />
<line x1="369.3" y1="372.77" x2="371.3" y2="372.77" stroke="#3a3a3a" stroke-width="1.0" />
<line x1="632.4" y1="372.77" x2="634.4" y2="372.77" stroke="#3a3a3a" stroke-width="1.0" />
<line x1="369.3" y1="369.93" x2="371.3" y2="369.93" stroke="#3a3a3a" stroke-width="1.0" />
<line x1="632.4" y1="369.93" x2="634.4" y2="369.93" stroke="#3a3a3a" stroke-width="1.0" />
<line x1="369.3" y1="367.53" x2="371.3" y2="367.53" stroke="#3a3a3a" stroke-width="1.0" />
<line x1="632.4" y1="367.53" x2="634.4" y2="367.53" stroke="#3a3a3a" stroke-width="1.0" />
<line x1="369.3" y1="365.45" x2="371.3" y2="365.45" stroke="#3a3a3a" stroke-width="1.0" />
<line x1="632.4" y1="365.45" x2="634.4" y2="365.45" stroke="#3a3a3a" stroke-width="1.0" />
<line x1="369.3" y1="363.62" x2="371.3" y2="363.62" stroke="#3a3a3a" stroke-width="1.0" />
<line x1="632.4" y1="363.62" x2="634.4" y2="363.62" stroke="#3a3a3a" stroke-width="1.0" />
<line x1="367.3" y1="433.66" x2="371.3" y2="433.66" stroke="#3a3a3a" stroke-width="1.0" />
<line x1="631.4" y1="433.66" x2="634.4" y2="433.66" stroke="#3a3a3a" stroke-width="1.0" />
<line x1="369.3" y1="422.87" x2="371.3" y2="422.87" stroke="#3a3a3a" stroke-width="1.0" />
<line x1="632.4" y1="422.87" x2="634.4" y2="422.87" stroke="#3a3a3a" stroke-width="1.0" />
<line x1="369.3" y1="416.56" x2="371.3" y2="416.56" stroke="#3a3a3a" stroke-width="1.0" />
<line x1="632.4" y1="416.56" x2="634.4" y2="416.56" stroke="#3a3a3a" stroke-width="1.0" />
<line x1="369.3" y1="412.08" x2="371.3" y2="412.08" stroke="#3a3a3a" stroke-width="1.0" />
<line x1="632.4" y1="412.08" x2="634.4" y2="412.08" stroke="#3a3a3a" stroke-width="1.0" />
<line x1="369.3" y1="408.61" x2="371.3" y2="408.61" stroke="#3a3a3a" stroke-width="1.0" />
<line x1="632.4" y1="408.61" x2="634.4" y2="408.61" stroke="#3a3a3a" stroke-width="1.0" />
<line x1="369.3" y1="405.77" x2="371.3" y2="405.77" stroke="#3a3a3a" stroke-width="1.0" />
<line x1="632.4" y1="405.77" x2="634.4" y2="405.77" stroke="#3a3a3a" stroke-width="1.0" />
<line x1="369.3" y1="403.37" x2="371.3" y2="403.37" stroke="#3a3a3a" stroke-width="1.0" />
<line x1="632.4" y1="403.37" x2="634.4" y2="403.37" stroke="#3a3a3a" stroke-width="1.0" />
<line x1="369.3" y1="401.29" x2="371.3" y2="401.29" stroke="#3a3a3a" stroke-width="1.0" />
<line x1="632.4" y1="401.29" x2="634.4" y2="401.29" stroke="#3a3a3a" stroke-width="1.0" />
<line x1="369.3" y1="399.46" x2="371.3" y2="399.46" stroke="#3a3a3a" stroke-width="1.0" />
<line x1="632.4" y1="399.46" x2="634.4" y2="399.46" stroke="#3a3a3a" stroke-width="1.0" />
<line x1="367.3" y1="469.5" x2="371.3" y2="469.5" stroke="#3a3a3a" stroke-width="1.0" />
<line x1="631.4" y1="469.5" x2="634.4" y2="469.5" stroke="#3a3a3a" stroke-width="1.0" />
<line x1="369.3" y1="458.71" x2="371.3" y2="458.71" stroke="#3a3a3a" stroke-width="1.0" />
<line x1="632.4" y1="458.71" x2="634.4" y2="458.71" stroke="#3a3a3a" stroke-width="1.0" />
<line x1="369.3" y1="452.4" x2="371.3" y2="452.4" stroke="#3a3a3a" stroke-width="1.0" />
<line x1="632.4" y1="452.4" x2="634.4" y2="452.4" stroke="#3a3a3a" stroke-width="1.0" />
<line x1="369.3" y1="447.92" x2="371.3" y2="447.92" stroke="#3a3a3a" stroke-width="1.0" />
<line x1="632.4" y1="447.92" x2="634.4" y2="447.92" stroke="#3a3a3a" stroke-width="1.0" />
<line x1="369.3" y1="444.45" x2="371.3" y2="444.45" stroke="#3a3a3a" stroke-width="1.0" />
<line x1="632.4" y1="444.45" x2="634.4" y2="444.45" stroke="#3a3a3a" stroke-width="1.0" />
<line x1="369.3" y1="441.61" x2="371.3" y2="441.61" stroke="#3a3a3a" stroke-width="1.0" />
<line x1="632.4" y1="441.61" x2="634.4" y2="441.61" stroke="#3a3a3a" stroke-width="1.0" />
<line x1="369.3" y1="439.21" x2="371.3" y2="439.21" stroke="#3a3a3a" stroke-width="1.0" />
<line x1="632.4" y1="439.21" x2="634.4" y2="439.21" stroke="#3a3a3a" stroke-width="1.0" />
<line x1="369.3" y1="437.13" x2="371.3" y2="437.13" stroke="#3a3a3a" stroke-width="1.0" />
<line x1="632.4" y1="437.13" x2="634.4" y2="437.13" stroke="#3a3a3a" stroke-width="1.0" />
<line x1="369.3" y1="435.3" x2="371.3" y2="435.3" stroke="#3a3a3a" stroke-width="1.0" />
<line x1="632.4" y1="435.3" x2="634.4" y2="435.3" stroke="#3a3a3a" stroke-width="1.0" />
<line x1="369.3" y1="475.05" x2="371.3" y2="475.05" stroke="#3a3a3a" stroke-width="1.0" />
<line x1="632.4" y1="475.05" x2="634.4" y2="475.05" stroke="#3a3a3a" stroke-width="1.0" />
<line x1="369.3" y1="472.97" x2="371.3" y2="472.97" stroke="#3a3a3a" stroke-width="1.0" />
<line x1="632.4" y1="472.97" x2="634.4" y2="472.97" stroke="#3a3a3a" stroke-width="1.0" />
<line x1="369.3" y1="471.14" x2="371.3" y2="471.14" stroke="#3a3a3a" stroke-width="1.0" />
<line x1="632.4" y1="471.14" x2="634.4" y2="471.14" stroke="#3a3a3a" stroke-width="1.0" />
<text x="347.7" y="294.7" font-size="11" fill="#222">10<tspan font-size="7.5" dy="-4.6">2</tspan></text>
<text x="347.7" y="330.54" font-size="11" fill="#222">10<tspan font-size="7.5" dy="-4.6">1</tspan></text>
<text x="347.7" y="366.38" font-size="11" fill="#222">10<tspan font-size="7.5" dy="-4.6">0</tspan></text>
<text x="343.31" y="402.22" font-size="11" fill="#222">10<tspan font-size="7.5" dy="-4.6">−1</tspan></text>
<text x="343.31" y="438.06" font-size="11" fill="#222">10<tspan font-size="7.5" dy="-4.6">−2</tspan></text>
<text x="343.31" y="473.9" font-size="11" fill="#222">10<tspan font-size="7.5" dy="-4.6">−3</tspan></text>
<text x="501.3" y="511.2" font-size="13" text-anchor="middle" fill="#222" >Time to restore &gt;90% mechanical performance (min)</text>
<text x="337" y="371.25" font-size="13" text-anchor="middle" fill="#222" transform="rotate(-90 337,371.25)">Young's modulus (MPa)</text>
<text x="327.2" y="267.7" font-size="20" text-anchor="start" fill="#222" >e</text>
<ellipse cx="781.85" cy="339.4" rx="80.8" ry="54.9" transform="rotate(51.3 781.85 339.4)" fill="#ffd5d6"/>
<ellipse cx="900.35" cy="427.7" rx="58.9" ry="32.8" transform="rotate(9.6 900.35 427.7)" fill="#d3e4f3"/>
<circle cx="723.7" cy="304.4" r="3.25" fill="#ef3b40"/>
<circle cx="739.7" cy="312.9" r="3.25" fill="#ef3b40"/>
<circle cx="739.7" cy="325" r="3.25" fill="#ef3b40"/>
<circle cx="755.5" cy="308" r="3.25" fill="#ef3b40"/>
<circle cx="764.8" cy="321.7" r="3.25" fill="#ef3b40"/>
<circle cx="803.3" cy="323.8" r="3.25" fill="#ef3b40"/>
<circle cx="812.6" cy="323.8" r="3.25" fill="#ef3b40"/>
<circle cx="812.6" cy="299" r="3.25" fill="#ef3b40"/>
<circle cx="828.4" cy="349.8" r="3.25" fill="#ef3b40"/>
<circle cx="739.7" cy="356.7" r="3.25" fill="#ef3b40"/>
<circle cx="755.5" cy="371.3" r="3.25" fill="#ef3b40"/>
<circle cx="812.6" cy="371.3" r="3.25" fill="#ef3b40"/>
<polygon points="906.3,406.3 910.6,410.6 906.3,414.9 902,410.6" fill="#5b92d0"/>
<polygon points="938,410.1 942.3,414.4 938,418.7 933.7,414.4" fill="#5b92d0"/>
<polygon points="885.4,445.5 889.7,449.8 885.4,454.1 881.1,449.8" fill="#5b92d0"/>
<polygon points="885.4,341.9 886.93,346 891.3,346.18 887.87,348.9 889.04,353.12 885.4,350.7 881.76,353.12 882.93,348.9 879.5,346.18 883.87,346" fill="#2fbb68"/>
<text x="827.6" y="288.4" font-size="12" text-anchor="start" fill="#f26d6f" >Self-healing</text>
<text x="827.6" y="301.9" font-size="12" text-anchor="start" fill="#f26d6f" >elastomeric gels</text>
<text x="858.4" y="337.6" font-size="12" text-anchor="start" fill="#2fbb68" >SHSME material</text>
<text x="934.2" y="379.8" font-size="12" text-anchor="middle" fill="#4a8ad0" >Self-healing</text>
<text x="933.9" y="392.8" font-size="12" text-anchor="middle" fill="#4a8ad0" >hydrogels</text>
<line x1="754.8" y1="456.2" x2="754.8" y2="477.2" stroke="#bbb" stroke-width="1" stroke-dasharray="3,2"/>
<line x1="828.4" y1="456.7" x2="828.4" y2="477.2" stroke="#444" stroke-width="1" stroke-dasharray="3,2"/>
<line x1="885.2" y1="459" x2="885.2" y2="477.2" stroke="#ccc" stroke-width="1" stroke-dasharray="3,2"/>
<text x="752.5" y="471.4" font-size="12" text-anchor="end" fill="#222" >24 h</text>
<text x="824.3" y="471.4" font-size="12" text-anchor="end" fill="#222" >1 h</text>
<text x="873.7" y="471.4" font-size="12" text-anchor="end" fill="#222" >5 min</text>
<rect x="710.8" y="265.2" width="264.3" height="212" fill="none" stroke="#3a3a3a" stroke-width="1.1"/>
<line x1="710.8" y1="477.2" x2="710.8" y2="481.2" stroke="#3a3a3a" stroke-width="1.0" />
<line x1="710.8" y1="265.2" x2="710.8" y2="268.2" stroke="#3a3a3a" stroke-width="1.0" />
<text x="702.6" y="495.4" font-size="11" fill="#222">10<tspan font-size="7.5" dy="-4.6">4</tspan></text>
<line x1="747.75" y1="477.2" x2="747.75" y2="479.2" stroke="#3a3a3a" stroke-width="1.0" />
<line x1="747.75" y1="265.2" x2="747.75" y2="267.2" stroke="#3a3a3a" stroke-width="1.0" />
<line x1="738.44" y1="477.2" x2="738.44" y2="479.2" stroke="#3a3a3a" stroke-width="1.0" />
<line x1="738.44" y1="265.2" x2="738.44" y2="267.2" stroke="#3a3a3a" stroke-width="1.0" />
<line x1="731.84" y1="477.2" x2="731.84" y2="479.2" stroke="#3a3a3a" stroke-width="1.0" />
<line x1="731.84" y1="265.2" x2="731.84" y2="267.2" stroke="#3a3a3a" stroke-width="1.0" />
<line x1="726.71" y1="477.2" x2="726.71" y2="479.2" stroke="#3a3a3a" stroke-width="1.0" />
<line x1="726.71" y1="265.2" x2="726.71" y2="267.2" stroke="#3a3a3a" stroke-width="1.0" />
<line x1="722.53" y1="477.2" x2="722.53" y2="479.2" stroke="#3a3a3a" stroke-width="1.0" />
<line x1="722.53" y1="265.2" x2="722.53" y2="267.2" stroke="#3a3a3a" stroke-width="1.0" />
<line x1="718.99" y1="477.2" x2="718.99" y2="479.2" stroke="#3a3a3a" stroke-width="1.0" />
<line x1="718.99" y1="265.2" x2="718.99" y2="267.2" stroke="#3a3a3a" stroke-width="1.0" />
<line x1="715.92" y1="477.2" x2="715.92" y2="479.2" stroke="#3a3a3a" stroke-width="1.0" />
<line x1="715.92" y1="265.2" x2="715.92" y2="267.2" stroke="#3a3a3a" stroke-width="1.0" />
<line x1="713.22" y1="477.2" x2="713.22" y2="479.2" stroke="#3a3a3a" stroke-width="1.0" />
<line x1="713.22" y1="265.2" x2="713.22" y2="267.2" stroke="#3a3a3a" stroke-width="1.0" />
<line x1="763.66" y1="477.2" x2="763.66" y2="481.2" stroke="#3a3a3a" stroke-width="1.0" />
<line x1="763.66" y1="265.2" x2="763.66" y2="268.2" stroke="#3a3a3a" stroke-width="1.0" />
<text x="755.46" y="495.4" font-size="11" fill="#222">10<tspan font-size="7.5" dy="-4.6">3</tspan></text>
<line x1="800.61" y1="477.2" x2="800.61" y2="479.2" stroke="#3a3a3a" stroke-width="1.0" />
<line x1="800.61" y1="265.2" x2="800.61" y2="267.2" stroke="#3a3a3a" stroke-width="1.0" />
<line x1="791.3" y1="477.2" x2="791.3" y2="479.2" stroke="#3a3a3a" stroke-width="1.0" />
<line x1="791.3" y1="265.2" x2="791.3" y2="267.2" stroke="#3a3a3a" stroke-width="1.0" />
<line x1="784.7" y1="477.2" x2="784.7" y2="479.2" stroke="#3a3a3a" stroke-width="1.0" />
<line x1="784.7" y1="265.2" x2="784.7" y2="267.2" stroke="#3a3a3a" stroke-width="1.0" />
<line x1="779.57" y1="477.2" x2="779.57" y2="479.2" stroke="#3a3a3a" stroke-width="1.0" />
<line x1="779.57" y1="265.2" x2="779.57" y2="267.2" stroke="#3a3a3a" stroke-width="1.0" />
<line x1="775.39" y1="477.2" x2="775.39" y2="479.2" stroke="#3a3a3a" stroke-width="1.0" />
<line x1="775.39" y1="265.2" x2="775.39" y2="267.2" stroke="#3a3a3a" stroke-width="1.0" />
<line x1="771.85" y1="477.2" x2="771.85" y2="479.2" stroke="#3a3a3a" stroke-width="1.0" />
<line x1="771.85" y1="265.2" x2="771.85" y2="267.2" stroke="#3a3a3a" stroke-width="1.0" />
<line x1="768.78" y1="477.2" x2="768.78" y2="479.2" stroke="#3a3a3a" stroke-width="1.0" />
<line x1="768.78" y1="265.2" x2="768.78" y2="267.2" stroke="#3a3a3a" stroke-width="1.0" />
<line x1="766.08" y1="477.2" x2="766.08" y2="479.2" stroke="#3a3a3a" stroke-width="1.0" />
<line x1="766.08" y1="265.2" x2="766.08" y2="267.2" stroke="#3a3a3a" stroke-width="1.0" />
<line x1="816.52" y1="477.2" x2="816.52" y2="481.2" stroke="#3a3a3a" stroke-width="1.0" />
<line x1="816.52" y1="265.2" x2="816.52" y2="268.2" stroke="#3a3a3a" stroke-width="1.0" />
<text x="808.32" y="495.4" font-size="11" fill="#222">10<tspan font-size="7.5" dy="-4.6">2</tspan></text>
<line x1="853.47" y1="477.2" x2="853.47" y2="479.2" stroke="#3a3a3a" stroke-width="1.0" />
<line x1="853.47" y1="265.2" x2="853.47" y2="267.2" stroke="#3a3a3a" stroke-width="1.0" />
<line x1="844.16" y1="477.2" x2="844.16" y2="479.2" stroke="#3a3a3a" stroke-width="1.0" />
<line x1="844.16" y1="265.2" x2="844.16" y2="267.2" stroke="#3a3a3a" stroke-width="1.0" />
<line x1="837.56" y1="477.2" x2="837.56" y2="479.2" stroke="#3a3a3a" stroke-width="1.0" />
<line x1="837.56" y1="265.2" x2="837.56" y2="267.2" stroke="#3a3a3a" stroke-width="1.0" />
<line x1="832.43" y1="477.2" x2="832.43" y2="479.2" stroke="#3a3a3a" stroke-width="1.0" />
<line x1="832.43" y1="265.2" x2="832.43" y2="267.2" stroke="#3a3a3a" stroke-width="1.0" />
<line x1="828.25" y1="477.2" x2="828.25" y2="479.2" stroke="#3a3a3a" stroke-width="1.0" />
<line x1="828.25" y1="265.2" x2="828.25" y2="267.2" stroke="#3a3a3a" stroke-width="1.0" />
<line x1="824.71" y1="477.2" x2="824.71" y2="479.2" stroke="#3a3a3a" stroke-width="1.0" />
<line x1="824.71" y1="265.2" x2="824.71" y2="267.2" stroke="#3a3a3a" stroke-width="1.0" />
<line x1="821.64" y1="477.2" x2="821.64" y2="479.2" stroke="#3a3a3a" stroke-width="1.0" />
<line x1="821.64" y1="265.2" x2="821.64" y2="267.2" stroke="#3a3a3a" stroke-width="1.0" />
<line x1="818.94" y1="477.2" x2="818.94" y2="479.2" stroke="#3a3a3a" stroke-width="1.0" />
<line x1="818.94" y1="265.2" x2="818.94" y2="267.2" stroke="#3a3a3a" stroke-width="1.0" />
<line x1="869.38" y1="477.2" x2="869.38" y2="481.2" stroke="#3a3a3a" stroke-width="1.0" />
<line x1="869.38" y1="265.2" x2="869.38" y2="268.2" stroke="#3a3a3a" stroke-width="1.0" />
<text x="861.18" y="495.4" font-size="11" fill="#222">10<tspan font-size="7.5" dy="-4.6">1</tspan></text>
<line x1="906.33" y1="477.2" x2="906.33" y2="479.2" stroke="#3a3a3a" stroke-width="1.0" />
<line x1="906.33" y1="265.2" x2="906.33" y2="267.2" stroke="#3a3a3a" stroke-width="1.0" />
<line x1="897.02" y1="477.2" x2="897.02" y2="479.2" stroke="#3a3a3a" stroke-width="1.0" />
<line x1="897.02" y1="265.2" x2="897.02" y2="267.2" stroke="#3a3a3a" stroke-width="1.0" />
<line x1="890.42" y1="477.2" x2="890.42" y2="479.2" stroke="#3a3a3a" stroke-width="1.0" />
<line x1="890.42" y1="265.2" x2="890.42" y2="267.2" stroke="#3a3a3a" stroke-width="1.0" />
<line x1="885.29" y1="477.2" x2="885.29" y2="479.2" stroke="#3a3a3a" stroke-width="1.0" />
<line x1="885.29" y1="265.2" x2="885.29" y2="267.2" stroke="#3a3a3a" stroke-width="1.0" />
<line x1="881.11" y1="477.2" x2="881.11" y2="479.2" stroke="#3a3a3a" stroke-width="1.0" />
<line x1="881.11" y1="265.2" x2="881.11" y2="267.2" stroke="#3a3a3a" stroke-width="1.0" />
<line x1="877.57" y1="477.2" x2="877.57" y2="479.2" stroke="#3a3a3a" stroke-width="1.0" />
<line x1="877.57" y1="265.2" x2="877.57" y2="267.2" stroke="#3a3a3a" stroke-width="1.0" />
<line x1="874.5" y1="477.2" x2="874.5" y2="479.2" stroke="#3a3a3a" stroke-width="1.0" />
<line x1="874.5" y1="265.2" x2="874.5" y2="267.2" stroke="#3a3a3a" stroke-width="1.0" />
<line x1="871.8" y1="477.2" x2="871.8" y2="479.2" stroke="#3a3a3a" stroke-width="1.0" />
<line x1="871.8" y1="265.2" x2="871.8" y2="267.2" stroke="#3a3a3a" stroke-width="1.0" />
<line x1="922.24" y1="477.2" x2="922.24" y2="481.2" stroke="#3a3a3a" stroke-width="1.0" />
<line x1="922.24" y1="265.2" x2="922.24" y2="268.2" stroke="#3a3a3a" stroke-width="1.0" />
<text x="914.04" y="495.4" font-size="11" fill="#222">10<tspan font-size="7.5" dy="-4.6">0</tspan></text>
<line x1="959.19" y1="477.2" x2="959.19" y2="479.2" stroke="#3a3a3a" stroke-width="1.0" />
<line x1="959.19" y1="265.2" x2="959.19" y2="267.2" stroke="#3a3a3a" stroke-width="1.0" />
<line x1="949.88" y1="477.2" x2="949.88" y2="479.2" stroke="#3a3a3a" stroke-width="1.0" />
<line x1="949.88" y1="265.2" x2="949.88" y2="267.2" stroke="#3a3a3a" stroke-width="1.0" />
<line x1="943.28" y1="477.2" x2="943.28" y2="479.2" stroke="#3a3a3a" stroke-width="1.0" />
<line x1="943.28" y1="265.2" x2="943.28" y2="267.2" stroke="#3a3a3a" stroke-width="1.0" />
<line x1="938.15" y1="477.2" x2="938.15" y2="479.2" stroke="#3a3a3a" stroke-width="1.0" />
<line x1="938.15" y1="265.2" x2="938.15" y2="267.2" stroke="#3a3a3a" stroke-width="1.0" />
<line x1="933.97" y1="477.2" x2="933.97" y2="479.2" stroke="#3a3a3a" stroke-width="1.0" />
<line x1="933.97" y1="265.2" x2="933.97" y2="267.2" stroke="#3a3a3a" stroke-width="1.0" />
<line x1="930.43" y1="477.2" x2="930.43" y2="479.2" stroke="#3a3a3a" stroke-width="1.0" />
<line x1="930.43" y1="265.2" x2="930.43" y2="267.2" stroke="#3a3a3a" stroke-width="1.0" />
<line x1="927.36" y1="477.2" x2="927.36" y2="479.2" stroke="#3a3a3a" stroke-width="1.0" />
<line x1="927.36" y1="265.2" x2="927.36" y2="267.2" stroke="#3a3a3a" stroke-width="1.0" />
<line x1="924.66" y1="477.2" x2="924.66" y2="479.2" stroke="#3a3a3a" stroke-width="1.0" />
<line x1="924.66" y1="265.2" x2="924.66" y2="267.2" stroke="#3a3a3a" stroke-width="1.0" />
<line x1="975.1" y1="477.2" x2="975.1" y2="481.2" stroke="#3a3a3a" stroke-width="1.0" />
<line x1="975.1" y1="265.2" x2="975.1" y2="268.2" stroke="#3a3a3a" stroke-width="1.0" />
<text x="964.71" y="495.4" font-size="11" fill="#222">10<tspan font-size="7.5" dy="-4.6">−1</tspan></text>
<line x1="706.8" y1="292.4" x2="710.8" y2="292.4" stroke="#3a3a3a" stroke-width="1.0" />
<line x1="972.1" y1="292.4" x2="975.1" y2="292.4" stroke="#3a3a3a" stroke-width="1.0" />
<line x1="708.8" y1="280.48" x2="710.8" y2="280.48" stroke="#3a3a3a" stroke-width="1.0" />
<line x1="973.1" y1="280.48" x2="975.1" y2="280.48" stroke="#3a3a3a" stroke-width="1.0" />
<line x1="708.8" y1="273.51" x2="710.8" y2="273.51" stroke="#3a3a3a" stroke-width="1.0" />
<line x1="973.1" y1="273.51" x2="975.1" y2="273.51" stroke="#3a3a3a" stroke-width="1.0" />
<line x1="708.8" y1="268.56" x2="710.8" y2="268.56" stroke="#3a3a3a" stroke-width="1.0" />
<line x1="973.1" y1="268.56" x2="975.1" y2="268.56" stroke="#3a3a3a" stroke-width="1.0" />
<line x1="706.8" y1="332" x2="710.8" y2="332" stroke="#3a3a3a" stroke-width="1.0" />
<line x1="972.1" y1="332" x2="975.1" y2="332" stroke="#3a3a3a" stroke-width="1.0" />
<line x1="708.8" y1="320.08" x2="710.8" y2="320.08" stroke="#3a3a3a" stroke-width="1.0" />
<line x1="973.1" y1="320.08" x2="975.1" y2="320.08" stroke="#3a3a3a" stroke-width="1.0" />
<line x1="708.8" y1="313.11" x2="710.8" y2="313.11" stroke="#3a3a3a" stroke-width="1.0" />
<line x1="973.1" y1="313.11" x2="975.1" y2="313.11" stroke="#3a3a3a" stroke-width="1.0" />
<line x1="708.8" y1="308.16" x2="710.8" y2="308.16" stroke="#3a3a3a" stroke-width="1.0" />
<line x1="973.1" y1="308.16" x2="975.1" y2="308.16" stroke="#3a3a3a" stroke-width="1.0" />
<line x1="708.8" y1="304.32" x2="710.8" y2="304.32" stroke="#3a3a3a" stroke-width="1.0" />
<line x1="973.1" y1="304.32" x2="975.1" y2="304.32" stroke="#3a3a3a" stroke-width="1.0" />
<line x1="708.8" y1="301.19" x2="710.8" y2="301.19" stroke="#3a3a3a" stroke-width="1.0" />
<line x1="973.1" y1="301.19" x2="975.1" y2="301.19" stroke="#3a3a3a" stroke-width="1.0" />
<line x1="708.8" y1="298.53" x2="710.8" y2="298.53" stroke="#3a3a3a" stroke-width="1.0" />
<line x1="973.1" y1="298.53" x2="975.1" y2="298.53" stroke="#3a3a3a" stroke-width="1.0" />
<line x1="708.8" y1="296.24" x2="710.8" y2="296.24" stroke="#3a3a3a" stroke-width="1.0" />
<line x1="973.1" y1="296.24" x2="975.1" y2="296.24" stroke="#3a3a3a" stroke-width="1.0" />
<line x1="708.8" y1="294.21" x2="710.8" y2="294.21" stroke="#3a3a3a" stroke-width="1.0" />
<line x1="973.1" y1="294.21" x2="975.1" y2="294.21" stroke="#3a3a3a" stroke-width="1.0" />
<line x1="706.8" y1="371.6" x2="710.8" y2="371.6" stroke="#3a3a3a" stroke-width="1.0" />
<line x1="972.1" y1="371.6" x2="975.1" y2="371.6" stroke="#3a3a3a" stroke-width="1.0" />
<line x1="708.8" y1="359.68" x2="710.8" y2="359.68" stroke="#3a3a3a" stroke-width="1.0" />
<line x1="973.1" y1="359.68" x2="975.1" y2="359.68" stroke="#3a3a3a" stroke-width="1.0" />
<line x1="708.8" y1="352.71" x2="710.8" y2="352.71" stroke="#3a3a3a" stroke-width="1.0" />
<line x1="973.1" y1="352.71" x2="975.1" y2="352.71" stroke="#3a3a3a" stroke-width="1.0" />
<line x1="708.8" y1="347.76" x2="710.8" y2="347.76" stroke="#3a3a3a" stroke-width="1.0" />
<line x1="973.1" y1="347.76" x2="975.1" y2="347.76" stroke="#3a3a3a" stroke-width="1.0" />
<line x1="708.8" y1="343.92" x2="710.8" y2="343.92" stroke="#3a3a3a" stroke-width="1.0" />
<line x1="973.1" y1="343.92" x2="975.1" y2="343.92" stroke="#3a3a3a" stroke-width="1.0" />
<line x1="708.8" y1="340.79" x2="710.8" y2="340.79" stroke="#3a3a3a" stroke-width="1.0" />
<line x1="973.1" y1="340.79" x2="975.1" y2="340.79" stroke="#3a3a3a" stroke-width="1.0" />
<line x1="708.8" y1="338.13" x2="710.8" y2="338.13" stroke="#3a3a3a" stroke-width="1.0" />
<line x1="973.1" y1="338.13" x2="975.1" y2="338.13" stroke="#3a3a3a" stroke-width="1.0" />
<line x1="708.8" y1="335.84" x2="710.8" y2="335.84" stroke="#3a3a3a" stroke-width="1.0" />
<line x1="973.1" y1="335.84" x2="975.1" y2="335.84" stroke="#3a3a3a" stroke-width="1.0" />
<line x1="708.8" y1="333.81" x2="710.8" y2="333.81" stroke="#3a3a3a" stroke-width="1.0" />
<line x1="973.1" y1="333.81" x2="975.1" y2="333.81" stroke="#3a3a3a" stroke-width="1.0" />
<line x1="706.8" y1="411.2" x2="710.8" y2="411.2" stroke="#3a3a3a" stroke-width="1.0" />
<line x1="972.1" y1="411.2" x2="975.1" y2="411.2" stroke="#3a3a3a" stroke-width="1.0" />
<line x1="708.8" y1="399.28" x2="710.8" y2="399.28" stroke="#3a3a3a" stroke-width="1.0" />
<line x1="973.1" y1="399.28" x2="975.1" y2="399.28" stroke="#3a3a3a" stroke-width="1.0" />
<line x1="708.8" y1="392.31" x2="710.8" y2="392.31" stroke="#3a3a3a" stroke-width="1.0" />
<line x1="973.1" y1="392.31" x2="975.1" y2="392.31" stroke="#3a3a3a" stroke-width="1.0" />
<line x1="708.8" y1="387.36" x2="710.8" y2="387.36" stroke="#3a3a3a" stroke-width="1.0" />
<line x1="973.1" y1="387.36" x2="975.1" y2="387.36" stroke="#3a3a3a" stroke-width="1.0" />
<line x1="708.8" y1="383.52" x2="710.8" y2="383.52" stroke="#3a3a3a" stroke-width="1.0" />
<line x1="973.1" y1="383.52" x2="975.1" y2="383.52" stroke="#3a3a3a" stroke-width="1.0" />
<line x1="708.8" y1="380.39" x2="710.8" y2="380.39" stroke="#3a3a3a" stroke-width="1.0" />
<line x1="973.1" y1="380.39" x2="975.1" y2="380.39" stroke="#3a3a3a" stroke-width="1.0" />
<line x1="708.8" y1="377.73" x2="710.8" y2="377.73" stroke="#3a3a3a" stroke-width="1.0" />
<line x1="973.1" y1="377.73" x2="975.1" y2="377.73" stroke="#3a3a3a" stroke-width="1.0" />
<line x1="708.8" y1="375.44" x2="710.8" y2="375.44" stroke="#3a3a3a" stroke-width="1.0" />
<line x1="973.1" y1="375.44" x2="975.1" y2="375.44" stroke="#3a3a3a" stroke-width="1.0" />
<line x1="708.8" y1="373.41" x2="710.8" y2="373.41" stroke="#3a3a3a" stroke-width="1.0" />
<line x1="973.1" y1="373.41" x2="975.1" y2="373.41" stroke="#3a3a3a" stroke-width="1.0" />
<line x1="706.8" y1="450.8" x2="710.8" y2="450.8" stroke="#3a3a3a" stroke-width="1.0" />
<line x1="972.1" y1="450.8" x2="975.1" y2="450.8" stroke="#3a3a3a" stroke-width="1.0" />
<line x1="708.8" y1="438.88" x2="710.8" y2="438.88" stroke="#3a3a3a" stroke-width="1.0" />
<line x1="973.1" y1="438.88" x2="975.1" y2="438.88" stroke="#3a3a3a" stroke-width="1.0" />
<line x1="708.8" y1="431.91" x2="710.8" y2="431.91" stroke="#3a3a3a" stroke-width="1.0" />
<line x1="973.1" y1="431.91" x2="975.1" y2="431.91" stroke="#3a3a3a" stroke-width="1.0" />
<line x1="708.8" y1="426.96" x2="710.8" y2="426.96" stroke="#3a3a3a" stroke-width="1.0" />
<line x1="973.1" y1="426.96" x2="975.1" y2="426.96" stroke="#3a3a3a" stroke-width="1.0" />
<line x1="708.8" y1="423.12" x2="710.8" y2="423.12" stroke="#3a3a3a" stroke-width="1.0" />
<line x1="973.1" y1="423.12" x2="975.1" y2="423.12" stroke="#3a3a3a" stroke-width="1.0" />
<line x1="708.8" y1="419.99" x2="710.8" y2="419.99" stroke="#3a3a3a" stroke-width="1.0" />
<line x1="973.1" y1="419.99" x2="975.1" y2="419.99" stroke="#3a3a3a" stroke-width="1.0" />
<line x1="708.8" y1="417.33" x2="710.8" y2="417.33" stroke="#3a3a3a" stroke-width="1.0" />
<line x1="973.1" y1="417.33" x2="975.1" y2="417.33" stroke="#3a3a3a" stroke-width="1.0" />
<line x1="708.8" y1="415.04" x2="710.8" y2="415.04" stroke="#3a3a3a" stroke-width="1.0" />
<line x1="973.1" y1="415.04" x2="975.1" y2="415.04" stroke="#3a3a3a" stroke-width="1.0" />
<line x1="708.8" y1="413.01" x2="710.8" y2="413.01" stroke="#3a3a3a" stroke-width="1.0" />
<line x1="973.1" y1="413.01" x2="975.1" y2="413.01" stroke="#3a3a3a" stroke-width="1.0" />
<line x1="708.8" y1="471.51" x2="710.8" y2="471.51" stroke="#3a3a3a" stroke-width="1.0" />
<line x1="973.1" y1="471.51" x2="975.1" y2="471.51" stroke="#3a3a3a" stroke-width="1.0" />
<line x1="708.8" y1="466.56" x2="710.8" y2="466.56" stroke="#3a3a3a" stroke-width="1.0" />
<line x1="973.1" y1="466.56" x2="975.1" y2="466.56" stroke="#3a3a3a" stroke-width="1.0" />
<line x1="708.8" y1="462.72" x2="710.8" y2="462.72" stroke="#3a3a3a" stroke-width="1.0" />
<line x1="973.1" y1="462.72" x2="975.1" y2="462.72" stroke="#3a3a3a" stroke-width="1.0" />
<line x1="708.8" y1="459.59" x2="710.8" y2="459.59" stroke="#3a3a3a" stroke-width="1.0" />
<line x1="973.1" y1="459.59" x2="975.1" y2="459.59" stroke="#3a3a3a" stroke-width="1.0" />
<line x1="708.8" y1="456.93" x2="710.8" y2="456.93" stroke="#3a3a3a" stroke-width="1.0" />
<line x1="973.1" y1="456.93" x2="975.1" y2="456.93" stroke="#3a3a3a" stroke-width="1.0" />
<line x1="708.8" y1="454.64" x2="710.8" y2="454.64" stroke="#3a3a3a" stroke-width="1.0" />
<line x1="973.1" y1="454.64" x2="975.1" y2="454.64" stroke="#3a3a3a" stroke-width="1.0" />
<line x1="708.8" y1="452.61" x2="710.8" y2="452.61" stroke="#3a3a3a" stroke-width="1.0" />
<line x1="973.1" y1="452.61" x2="975.1" y2="452.61" stroke="#3a3a3a" stroke-width="1.0" />
<text x="687.2" y="296.8" font-size="11" fill="#222">10<tspan font-size="7.5" dy="-4.6">1</tspan></text>
<text x="687.2" y="336.4" font-size="11" fill="#222">10<tspan font-size="7.5" dy="-4.6">0</tspan></text>
<text x="682.81" y="376" font-size="11" fill="#222">10<tspan font-size="7.5" dy="-4.6">−1</tspan></text>
<text x="682.81" y="415.6" font-size="11" fill="#222">10<tspan font-size="7.5" dy="-4.6">−2</tspan></text>
<text x="682.81" y="455.2" font-size="11" fill="#222">10<tspan font-size="7.5" dy="-4.6">−3</tspan></text>
<text x="837.8" y="511.2" font-size="13" text-anchor="middle" fill="#222" >Time to restore &gt;90% mechanical performance (min)</text>
<text x="680" y="371.1" font-size="13" text-anchor="middle" fill="#222" transform="rotate(-90 680,371.1)">Ultimate tensile strength (MPa)</text>
<text x="680" y="267.5" font-size="20" text-anchor="start" fill="#222" >f</text>
<defs><filter id="bl1" x="-20%" y="-20%" width="140%" height="140%"><feGaussianBlur stdDeviation="1.6"/></filter><filter id="bl2" x="-20%" y="-20%" width="140%" height="140%"><feGaussianBlur stdDeviation="0.7"/></filter><filter id="bl3" x="-30%" y="-30%" width="160%" height="160%"><feGaussianBlur stdDeviation="3"/></filter><clipPath id="photo"><rect x="35" y="263" width="269" height="243"/></clipPath><linearGradient id="gl" x1="0" y1="0" x2="0" y2="1"><stop offset="0" stop-color="#6d95c2"/><stop offset="1" stop-color="#5e89bb"/></linearGradient></defs>
<g clip-path="url(#photo)">
<rect x="35" y="263" width="269" height="243" fill="#dfe8ef"/>
<rect x="35" y="263" width="44" height="243" fill="#dee7f0"/>
<rect x="79" y="263" width="43.5" height="243" fill="#dae6ee"/>
<rect x="78.3" y="263" width="1.6" height="243" fill="#e6eef4"/>
<linearGradient id="tg0" x1="0" y1="0" x2="0" y2="1"><stop offset="0" stop-color="#6a90ba"/><stop offset="1" stop-color="#6088b4"/></linearGradient>
<path d="M122.5,263 L160.1,263 L160.1,419 Q160.1,426 155.1,426 L147.5,426 Q142.5,426 141.5,420 Q140.5,425 135.5,425 L127.5,425 Q122.5,425 122.5,419 Z" fill="url(#tg0)"/>
<linearGradient id="tg1" x1="0" y1="0" x2="0" y2="1"><stop offset="0" stop-color="#7399c3"/><stop offset="1" stop-color="#6890bd"/></linearGradient>
<path d="M159.5,263 L196.6,263 L196.6,375 Q196.6,382 191.6,382 L183.5,382 Q178.5,382 177.5,376 Q176.5,381 171.5,381 L164.5,381 Q159.5,381 159.5,375 Z" fill="url(#tg1)"/>
<linearGradient id="tg2" x1="0" y1="0" x2="0" y2="1"><stop offset="0" stop-color="#6f95c0"/><stop offset="1" stop-color="#6890bd"/></linearGradient>
<path d="M196,263 L232.6,263 L232.6,335 Q232.6,342 227.6,342 L218,342 Q213,342 212,336 Q211,341 206,341 L201,341 Q196,341 196,335 Z" fill="url(#tg2)"/>
<linearGradient id="tg3" x1="0" y1="0" x2="0" y2="1"><stop offset="0" stop-color="#6189b8"/><stop offset="1" stop-color="#6189b8"/></linearGradient>
<path d="M232,263 L269.1,263 L269.1,294 Q269.1,301 264.1,301 L255.5,301 Q250.5,301 249.5,295 Q248.5,300 243.5,300 L237,300 Q232,300 232,294 Z" fill="url(#tg3)"/>
<linearGradient id="tg4" x1="0" y1="0" x2="0" y2="1"><stop offset="0" stop-color="#6a92c2"/><stop offset="1" stop-color="#6a92c2"/></linearGradient>
<path d="M268.5,263 L304,263 L304,277 Q304,284 299,284 L285.5,284 Q280.5,284 279.5,278 Q278.5,283 273.5,283 L273.5,283 Q268.5,283 268.5,277 Z" fill="url(#tg4)"/>
<rect x="150" y="263" width="9.5" height="100" fill="#4f769f" opacity="0.35" filter="url(#bl3)"/>
<g filter="url(#bl1)" fill="#1d3352" opacity="0.92">
<path d="M159.5,360 Q150,388 140.5,420 L146,421 Q151,400 159.5,384 Z"/>
<path d="M178,381 Q182,358 196,318 L196,346 Q190,362 187,381 Z"/>
<path d="M211,341 Q212,318 222,298 Q227,286 232,276 L232,305 Q224,320 221,341 Z"/>
<path d="M247,300 Q247,283 246.5,263 L257,263 Q253,283 252.5,300 Z"/>
<path d="M268.5,263 L280,263 Q279,273 281,283 L277,283 Q272,274 268.5,273 Z"/>
</g>
<g filter="url(#bl3)" fill="#2c4a72" opacity="0.5">
<path d="M134,425 L159.5,372 L159.5,342 L138,392 Z"/>
<path d="M122.5,425 L122.5,395 Q128,415 140,425 Z"/>
<path d="M165,381 L196,325 L196,300 L178,345 Z"/>
<path d="M205,341 L232,290 L232,266 L214,305 Z"/>
</g>
<ellipse cx="63" cy="462.5" rx="9" ry="3" fill="#1b2433" filter="url(#bl2)" opacity="0.9"/>
<path d="M59,460 Q71,460 79,468" stroke="#1e2836" stroke-width="4.5" fill="none" filter="url(#bl2)" opacity="0.85"/>
<path d="M35,462 Q35,458 40,458 L52,458.5 Q56,459.5 56,466 L56,506 L35,506 Z" fill="#5680b5"/>
<path d="M37,461 L47.6,460 L50.75,470 L44.45,474 L46.55,483 L37,480 Z" fill="#7aa3d2" opacity="0.55" filter="url(#bl2)"/>
<path d="M41.3,488 L51.8,485 L55,498 L45.5,502 Z" fill="#7aa3d2" opacity="0.45" filter="url(#bl2)"/>
<path d="M49.7,468 Q45.5,476 47.6,484 Q52.85,491 55,496" stroke="#36598a" stroke-width="1.4" fill="none" opacity="0.8"/>
<path d="M56,466 Q56.5,461.5 61,461.5 Q75,464 79,473 L79,506 L56,506 Z" fill="#6796cc"/>
<path d="M58,471 Q60,465 66,465 L64,506 L58,506 Z" fill="#83afdc" opacity="0.45" filter="url(#bl2)"/>
<line x1="56" y1="459" x2="56.8" y2="506" stroke="#141c27" stroke-width="2.2" filter="url(#bl2)"/>
<line x1="35.6" y1="461" x2="35.6" y2="506" stroke="#1c2535" stroke-width="1.4" opacity="0.6" filter="url(#bl2)"/>
<ellipse cx="148.5" cy="462.5" rx="9" ry="3" fill="#1b2433" filter="url(#bl2)" opacity="0.9"/>
<path d="M144.5,460 Q151.5,460 159.5,468" stroke="#1e2836" stroke-width="4.5" fill="none" filter="url(#bl2)" opacity="0.85"/>
<path d="M122.5,463 Q122.5,459 127.5,459 L137.5,459.5 Q141.5,460.5 141.5,467 L141.5,506 L122.5,506 Z" fill="#5680b5"/>
<path d="M124.5,462 L133.9,461 L136.75,471 L131.05,475 L132.95,484 L124.5,481 Z" fill="#7aa3d2" opacity="0.55" filter="url(#bl2)"/>
<path d="M128.2,489 L137.7,486 L140.5,499 L132,503 Z" fill="#7aa3d2" opacity="0.45" filter="url(#bl2)"/>
<path d="M135.8,469 Q132,477 133.9,485 Q138.65,492 140.5,497" stroke="#36598a" stroke-width="1.4" fill="none" opacity="0.8"/>
<path d="M141.5,466 Q142,461.5 146.5,461.5 Q155.5,464 159.5,473 L159.5,506 L141.5,506 Z" fill="#6796cc"/>
<path d="M143.5,471 Q145.5,465 151.5,465 L149.5,506 L143.5,506 Z" fill="#83afdc" opacity="0.45" filter="url(#bl2)"/>
<line x1="141.5" y1="460" x2="142.3" y2="506" stroke="#141c27" stroke-width="2.2" filter="url(#bl2)"/>
<line x1="123.1" y1="462" x2="123.1" y2="506" stroke="#1c2535" stroke-width="1.4" opacity="0.6" filter="url(#bl2)"/>
<ellipse cx="185" cy="462.5" rx="9" ry="3" fill="#1b2433" filter="url(#bl2)" opacity="0.9"/>
<path d="M181,460 Q188,460 196,468" stroke="#1e2836" stroke-width="4.5" fill="none" filter="url(#bl2)" opacity="0.85"/>
<path d="M159.5,463 Q159.5,459 164.5,459 L174,459.5 Q178,460.5 178,467 L178,506 L159.5,506 Z" fill="#5680b5"/>
<path d="M161.5,462 L170.6,461 L173.38,471 L167.82,475 L169.68,484 L161.5,481 Z" fill="#7aa3d2" opacity="0.55" filter="url(#bl2)"/>
<path d="M165.05,489 L174.3,486 L177,499 L168.75,503 Z" fill="#7aa3d2" opacity="0.45" filter="url(#bl2)"/>
<path d="M172.45,469 Q168.75,477 170.6,485 Q175.22,492 177,497" stroke="#36598a" stroke-width="1.4" fill="none" opacity="0.8"/>
<path d="M178,466 Q178.5,461.5 183,461.5 Q192,464 196,473 L196,506 L178,506 Z" fill="#6796cc"/>
<path d="M180,471 Q182,465 188,465 L186,506 L180,506 Z" fill="#83afdc" opacity="0.45" filter="url(#bl2)"/>
<line x1="178" y1="460" x2="178.8" y2="506" stroke="#141c27" stroke-width="2.2" filter="url(#bl2)"/>
<line x1="160.1" y1="462" x2="160.1" y2="506" stroke="#1c2535" stroke-width="1.4" opacity="0.6" filter="url(#bl2)"/>
<ellipse cx="219" cy="462.5" rx="9" ry="3" fill="#1b2433" filter="url(#bl2)" opacity="0.9"/>
<path d="M215,460 Q224,460 232,468" stroke="#1e2836" stroke-width="4.5" fill="none" filter="url(#bl2)" opacity="0.85"/>
<path d="M196,463 Q196,459 201,459 L208,459.5 Q212,460.5 212,467 L212,506 L196,506 Z" fill="#5680b5"/>
<path d="M198,462 L205.6,461 L208,471 L203.2,475 L204.8,484 L198,481 Z" fill="#7aa3d2" opacity="0.55" filter="url(#bl2)"/>
<path d="M200.8,489 L208.8,486 L211,499 L204,503 Z" fill="#7aa3d2" opacity="0.45" filter="url(#bl2)"/>
<path d="M207.2,469 Q204,477 205.6,485 Q209.6,492 211,497" stroke="#36598a" stroke-width="1.4" fill="none" opacity="0.8"/>
<path d="M212,466 Q212.5,461.5 217,461.5 Q228,464 232,473 L232,506 L212,506 Z" fill="#6796cc"/>
<path d="M214,471 Q216,465 222,465 L220,506 L214,506 Z" fill="#83afdc" opacity="0.45" filter="url(#bl2)"/>
<line x1="212" y1="460" x2="212.8" y2="506" stroke="#141c27" stroke-width="2.2" filter="url(#bl2)"/>
<line x1="196.6" y1="462" x2="196.6" y2="506" stroke="#1c2535" stroke-width="1.4" opacity="0.6" filter="url(#bl2)"/>
<ellipse cx="257" cy="462.5" rx="9" ry="3" fill="#1b2433" filter="url(#bl2)" opacity="0.9"/>
<path d="M253,460 Q260.5,460 268.5,468" stroke="#1e2836" stroke-width="4.5" fill="none" filter="url(#bl2)" opacity="0.85"/>
<path d="M232,463 Q232,459 237,459 L246,459.5 Q250,460.5 250,467 L250,506 L232,506 Z" fill="#5680b5"/>
<path d="M234,462 L242.8,461 L245.5,471 L240.1,475 L241.9,484 L234,481 Z" fill="#7aa3d2" opacity="0.55" filter="url(#bl2)"/>
<path d="M237.4,489 L246.4,486 L249,499 L241,503 Z" fill="#7aa3d2" opacity="0.45" filter="url(#bl2)"/>
<path d="M244.6,469 Q241,477 242.8,485 Q247.3,492 249,497" stroke="#36598a" stroke-width="1.4" fill="none" opacity="0.8"/>
<path d="M250,466 Q250.5,461.5 255,461.5 Q264.5,464 268.5,473 L268.5,506 L250,506 Z" fill="#6796cc"/>
<path d="M252,471 Q254,465 260,465 L258,506 L252,506 Z" fill="#83afdc" opacity="0.45" filter="url(#bl2)"/>
<line x1="250" y1="460" x2="250.8" y2="506" stroke="#141c27" stroke-width="2.2" filter="url(#bl2)"/>
<line x1="232.6" y1="462" x2="232.6" y2="506" stroke="#1c2535" stroke-width="1.4" opacity="0.6" filter="url(#bl2)"/>
<ellipse cx="294" cy="462.5" rx="9" ry="3" fill="#1b2433" filter="url(#bl2)" opacity="0.9"/>
<path d="M290,460 Q296,460 304,468" stroke="#1e2836" stroke-width="4.5" fill="none" filter="url(#bl2)" opacity="0.85"/>
<path d="M268.5,463 Q268.5,459 273.5,459 L283,459.5 Q287,460.5 287,467 L287,506 L268.5,506 Z" fill="#5680b5"/>
<path d="M270.5,462 L279.6,461 L282.38,471 L276.82,475 L278.68,484 L270.5,481 Z" fill="#7aa3d2" opacity="0.55" filter="url(#bl2)"/>
<path d="M274.05,489 L283.3,486 L286,499 L277.75,503 Z" fill="#7aa3d2" opacity="0.45" filter="url(#bl2)"/>
<path d="M281.45,469 Q277.75,477 279.6,485 Q284.23,492 286,497" stroke="#36598a" stroke-width="1.4" fill="none" opacity="0.8"/>
<path d="M287,466 Q287.5,461.5 292,461.5 Q300,464 304,473 L304,506 L287,506 Z" fill="#6796cc"/>
<path d="M289,471 Q291,465 297,465 L295,506 L289,506 Z" fill="#83afdc" opacity="0.45" filter="url(#bl2)"/>
<line x1="287" y1="460" x2="287.8" y2="506" stroke="#141c27" stroke-width="2.2" filter="url(#bl2)"/>
<line x1="269.1" y1="462" x2="269.1" y2="506" stroke="#1c2535" stroke-width="1.4" opacity="0.6" filter="url(#bl2)"/>
<path d="M94,472 L101,471 Q112,476 122.5,488 L122.5,500 Q110,486 97,477 Z" fill="#1a2330" filter="url(#bl1)" opacity="0.95"/>
<path d="M79,481 Q80,474 88,473.6 L96,474 Q110,482 122.5,497 L122.5,506 L79,506 Z" fill="#6694c9"/>
<path d="M83,486 Q92,484 96,492 Q104,494 110,505" stroke="#4d78ab" stroke-width="1.2" fill="none" opacity="0.7"/>
<path d="M81,479 Q84,474 90,473.7" stroke="#2a3a50" stroke-width="1" fill="none" opacity="0.7"/>
<rect x="53" y="409.5" width="5.8" height="55" fill="#1c232c"/>
<rect x="55" y="425" width="1.6" height="30" fill="#8d98a4"/>
<path d="M59.5,409 L62.5,410 L63,462 L60,462 Z" fill="#2a333e"/>
<rect x="58.8" y="412" width="1" height="48" fill="#aab4bf"/>
<g transform="rotate(30 101 361)"><rect x="98.8" y="346" width="4.6" height="30" rx="1.4" fill="#222b36"/><rect x="102" y="347" width="0.8" height="28" fill="#7d8894"/></g>
<g transform="rotate(-38 102.6 407)"><rect x="99.8" y="391" width="5.8" height="32" rx="1.4" fill="#222b36"/><rect x="104.8" y="392" width="1" height="30" fill="#7d8894"/></g>
<rect x="141.3" y="423" width="8.5" height="38" fill="#c9d1d9"/>
<rect x="141.3" y="423" width="1.6" height="38" fill="#3a4450"/><rect x="147.5" y="423" width="2.3" height="38" fill="#28313c"/>
<rect x="143.5" y="432" width="3" height="14" fill="#f5f8fb"/>
<rect x="181.2" y="381" width="1.5" height="80" fill="#6a7580" opacity="0.7"/>
<rect x="173.8" y="381" width="5.7" height="80" fill="#d3d9df"/><rect x="173.8" y="381" width="0.9" height="80" fill="#59626c"/><rect x="178.3" y="381" width="1.3" height="80" fill="#2e3742"/>
<rect x="175.5" y="395" width="1.2" height="50" fill="#8a949e" opacity="0.7"/>
<rect x="216" y="340" width="1.3" height="121" fill="#7a8590" opacity="0.6"/>
<rect x="209.7" y="340" width="4.5" height="121" fill="#9aa4ae"/><rect x="209.7" y="340" width="1.1" height="121" fill="#333c47"/><rect x="213.1" y="340" width="1.1" height="121" fill="#2e3742"/>
<rect x="253" y="299" width="1.2" height="162" fill="#9aa4ae" opacity="0.6"/>
<rect x="247.8" y="299" width="4" height="162" fill="#5a636e"/><rect x="247.8" y="299" width="1.2" height="162" fill="#2b333d"/><rect x="250.6" y="299" width="1.2" height="162" fill="#2b333d"/>
<path d="M278.6,283 Q280.5,300 281.3,311.6 Q283,326 288,338.5" stroke="#1c232c" stroke-width="2.6" fill="none"/>
<rect x="285.3" y="389" width="3.6" height="72" fill="#232b35"/>
<rect x="88.1" y="333.1" width="29.9" height="94.5" fill="none" stroke="#3f4449" stroke-width="1.3" stroke-dasharray="4.2,2.6"/>
<path d="M52,398.5 Q58,384 82,381.8" stroke="#111" stroke-width="1.5" fill="none"/>
<polygon points="86.5,381.2 79.5,378.2 80.3,385" fill="#111"/>
<path d="M121,379 Q139,385 143.5,410" stroke="#fff" stroke-width="1.2" fill="none"/>
<polygon points="144.3,415 141,408.5 146.8,408.2" fill="#fff"/>
<line x1="122.8" y1="441.2" x2="132.7" y2="441.2" stroke="#ee1c24" stroke-width="2.3"/>
<polygon points="137.2,441.2 131.7,437.9 131.7,444.5" fill="#ee1c24"/>
<line x1="158.3" y1="416.5" x2="168" y2="416.5" stroke="#ee1c24" stroke-width="2.3"/>
<polygon points="172.5,416.5 167,413.2 167,419.8" fill="#ee1c24"/>
<line x1="192.3" y1="395.2" x2="202" y2="395.2" stroke="#ee1c24" stroke-width="2.3"/>
<polygon points="206.5,395.2 201,391.9 201,398.5" fill="#ee1c24"/>
<line x1="230.4" y1="373.6" x2="241.3" y2="373.6" stroke="#ee1c24" stroke-width="2.3"/>
<polygon points="245.8,373.6 240.3,370.3 240.3,376.9" fill="#ee1c24"/>
<rect x="270.8" y="489.3" width="25" height="5.7" fill="#fff"/>
</g>
<text x="62.2" y="358.6" font-size="12" text-anchor="middle" fill="#1a1a1a">Cut</text>
<text x="62" y="373.4" font-size="12" text-anchor="middle" fill="#1a1a1a">damage</text>
<text x="142.5" y="362" font-size="12" text-anchor="middle" fill="#fff">5s</text>
<text x="142.8" y="376" font-size="12" text-anchor="middle" fill="#fff">healing</text>
<text x="155.8" y="355.4" font-size="12" text-anchor="start" fill="#fff">ε=100%</text>
<text x="198.4" y="332.6" font-size="12" text-anchor="start" fill="#fff">200%</text>
<text x="234.4" y="295.5" font-size="12" text-anchor="start" fill="#fff">300%</text>
<text x="264.7" y="276.2" font-size="12" text-anchor="start" fill="#fff">Failure</text>
<text x="10.5" y="267.4" font-size="20" fill="#111">d</text>
</svg></body></html>
